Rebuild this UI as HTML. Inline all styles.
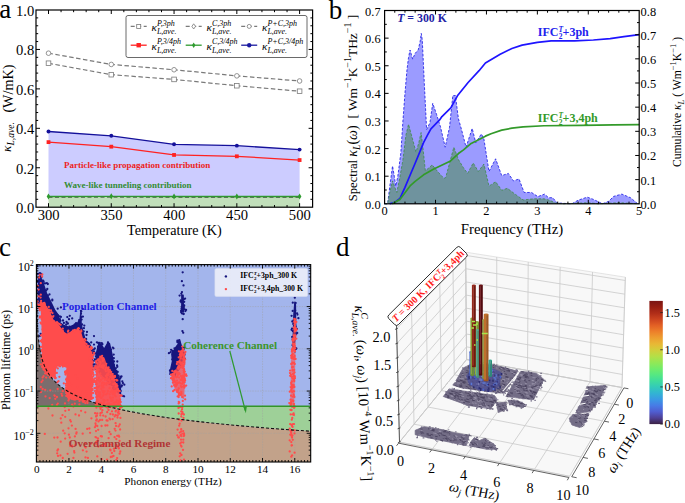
<!DOCTYPE html>
<html><head><meta charset="utf-8"><style>
html,body{margin:0;padding:0;background:#fff;}
svg{display:block;font-family:"Liberation Serif",serif;}
</style></head><body>
<svg width="685" height="503" viewBox="0 0 685 503">
<rect width="685" height="503" fill="#fff"/>
<polygon points="48.5,131.48 111.28,135.81 174.05,144.29 236.83,145.67 299.6,149.62 299.6,196.55 236.83,196.55 174.05,196.55 111.28,196.35 48.5,196.55" fill="#ccccff" stroke="none"/>
<polygon points="48.5,196.55 111.28,196.35 174.05,196.55 236.83,196.55 299.6,196.55 299.6,207.2 48.5,207.2" fill="#c1dfba" stroke="none"/>
<polyline points="48.5,53.19 111.28,64.43 174.05,69.75 236.83,75.86 299.6,80.99" fill="none" stroke="#7a7a7a" stroke-width="1.2" stroke-dasharray="4.5,2.5"/>
<circle cx="48.5" cy="53.19" r="2.3" fill="#fff" stroke="#7a7a7a" stroke-width="0.8"/>
<circle cx="111.28" cy="64.43" r="2.3" fill="#fff" stroke="#7a7a7a" stroke-width="0.8"/>
<circle cx="174.05" cy="69.75" r="2.3" fill="#fff" stroke="#7a7a7a" stroke-width="0.8"/>
<circle cx="236.83" cy="75.86" r="2.3" fill="#fff" stroke="#7a7a7a" stroke-width="0.8"/>
<circle cx="299.6" cy="80.99" r="2.3" fill="#fff" stroke="#7a7a7a" stroke-width="0.8"/>
<polyline points="48.5,63.24 111.28,74.68 174.05,79.41 236.83,85.72 299.6,91.25" fill="none" stroke="#7a7a7a" stroke-width="1.2" stroke-dasharray="4.5,2.5"/>
<rect x="46.2" y="60.94" width="4.6" height="4.6" fill="#fff" stroke="#7a7a7a" stroke-width="0.8"/>
<rect x="108.98" y="72.38" width="4.6" height="4.6" fill="#fff" stroke="#7a7a7a" stroke-width="0.8"/>
<rect x="171.75" y="77.11" width="4.6" height="4.6" fill="#fff" stroke="#7a7a7a" stroke-width="0.8"/>
<rect x="234.53" y="83.42" width="4.6" height="4.6" fill="#fff" stroke="#7a7a7a" stroke-width="0.8"/>
<rect x="297.3" y="88.95" width="4.6" height="4.6" fill="#fff" stroke="#7a7a7a" stroke-width="0.8"/>
<polyline points="48.5,196.55 111.28,196.35 174.05,196.55 236.83,196.55 299.6,196.55" fill="none" stroke="#2e9a2e" stroke-width="1.4"/>
<polyline points="48.5,197.45 111.28,197.25 174.05,197.45 236.83,197.45 299.6,197.45" fill="none" stroke="#4a6a4a" stroke-width="0.9" stroke-dasharray="4,2.5"/>
<polygon points="48.5,193.55 50.3,196.55 48.5,199.55 46.7,196.55" fill="#2e9a2e"/>
<polygon points="111.28,193.35 113.08,196.35 111.28,199.35 109.48,196.35" fill="#2e9a2e"/>
<polygon points="174.05,193.55 175.85,196.55 174.05,199.55 172.25,196.55" fill="#2e9a2e"/>
<polygon points="236.83,193.55 238.63,196.55 236.83,199.55 235.03,196.55" fill="#2e9a2e"/>
<polygon points="299.6,193.55 301.4,196.55 299.6,199.55 297.8,196.55" fill="#2e9a2e"/>
<polyline points="48.5,142.12 111.28,146.66 174.05,154.94 236.83,156.32 299.6,160.07" fill="none" stroke="#f22" stroke-width="1.3"/>
<rect x="46.6" y="140.22" width="3.8" height="3.8" fill="#f22"/>
<rect x="109.38" y="144.76" width="3.8" height="3.8" fill="#f22"/>
<rect x="172.15" y="153.04" width="3.8" height="3.8" fill="#f22"/>
<rect x="234.93" y="154.42" width="3.8" height="3.8" fill="#f22"/>
<rect x="297.7" y="158.17" width="3.8" height="3.8" fill="#f22"/>
<polyline points="48.5,131.48 111.28,135.81 174.05,144.29 236.83,145.67 299.6,149.62" fill="none" stroke="#14109a" stroke-width="1.3"/>
<circle cx="48.5" cy="131.48" r="1.95" fill="#14109a"/>
<circle cx="111.28" cy="135.81" r="1.95" fill="#14109a"/>
<circle cx="174.05" cy="144.29" r="1.95" fill="#14109a"/>
<circle cx="236.83" cy="145.67" r="1.95" fill="#14109a"/>
<circle cx="299.6" cy="149.62" r="1.95" fill="#14109a"/>
<text x="64" y="168.1" font-size="9.0" text-anchor="start" font-weight="bold" font-style="normal" fill="#ee2222" >Particle-like propagation contribution</text>
<text x="64" y="187.7" font-size="9.0" text-anchor="start" font-weight="bold" font-style="normal" fill="#338c33" >Wave-like tunneling contribution</text>
<rect x="36.0" y="10.0" width="276.6" height="197.2" fill="none" stroke="#000" stroke-width="1.2"/>
<path d="M48.5,207.2v-4M48.5,10.0v4M61.05,207.2v-2.2M61.05,10.0v2.2M73.61,207.2v-2.2M73.61,10.0v2.2M86.16,207.2v-2.2M86.16,10.0v2.2M98.72,207.2v-2.2M98.72,10.0v2.2M111.28,207.2v-4M111.28,10.0v4M123.83,207.2v-2.2M123.83,10.0v2.2M136.38,207.2v-2.2M136.38,10.0v2.2M148.94,207.2v-2.2M148.94,10.0v2.2M161.5,207.2v-2.2M161.5,10.0v2.2M174.05,207.2v-4M174.05,10.0v4M186.61,207.2v-2.2M186.61,10.0v2.2M199.16,207.2v-2.2M199.16,10.0v2.2M211.72,207.2v-2.2M211.72,10.0v2.2M224.27,207.2v-2.2M224.27,10.0v2.2M236.83,207.2v-4M236.83,10.0v4M249.38,207.2v-2.2M249.38,10.0v2.2M261.94,207.2v-2.2M261.94,10.0v2.2M274.49,207.2v-2.2M274.49,10.0v2.2M287.05,207.2v-2.2M287.05,10.0v2.2M299.6,207.2v-4M299.6,10.0v4M36.0,199.31h2.2M312.6,199.31h-2.2M36.0,191.42h2.2M312.6,191.42h-2.2M36.0,183.54h2.2M312.6,183.54h-2.2M36.0,175.65h2.2M312.6,175.65h-2.2M36.0,167.76h4M312.6,167.76h-4M36.0,159.87h2.2M312.6,159.87h-2.2M36.0,151.98h2.2M312.6,151.98h-2.2M36.0,144.1h2.2M312.6,144.1h-2.2M36.0,136.21h2.2M312.6,136.21h-2.2M36.0,128.32h4M312.6,128.32h-4M36.0,120.43h2.2M312.6,120.43h-2.2M36.0,112.54h2.2M312.6,112.54h-2.2M36.0,104.66h2.2M312.6,104.66h-2.2M36.0,96.77h2.2M312.6,96.77h-2.2M36.0,88.88h4M312.6,88.88h-4M36.0,80.99h2.2M312.6,80.99h-2.2M36.0,73.1h2.2M312.6,73.1h-2.2M36.0,65.22h2.2M312.6,65.22h-2.2M36.0,57.33h2.2M312.6,57.33h-2.2M36.0,49.44h4M312.6,49.44h-4M36.0,41.55h2.2M312.6,41.55h-2.2M36.0,33.66h2.2M312.6,33.66h-2.2M36.0,25.78h2.2M312.6,25.78h-2.2M36.0,17.89h2.2M312.6,17.89h-2.2" stroke="#000" stroke-width="1" fill="none"/>
<text x="34.2" y="213.2" font-size="14.6" text-anchor="end" font-weight="normal" font-style="normal" fill="#000" >0.0</text>
<text x="34.2" y="173.76" font-size="14.6" text-anchor="end" font-weight="normal" font-style="normal" fill="#000" >0.2</text>
<text x="34.2" y="134.32" font-size="14.6" text-anchor="end" font-weight="normal" font-style="normal" fill="#000" >0.4</text>
<text x="34.2" y="94.88" font-size="14.6" text-anchor="end" font-weight="normal" font-style="normal" fill="#000" >0.6</text>
<text x="34.2" y="55.44" font-size="14.6" text-anchor="end" font-weight="normal" font-style="normal" fill="#000" >0.8</text>
<text x="34.2" y="16" font-size="14.6" text-anchor="end" font-weight="normal" font-style="normal" fill="#000" >1.0</text>
<text x="48.7" y="219.9" font-size="14.6" text-anchor="middle" font-weight="normal" font-style="normal" fill="#000" >300</text>
<text x="111.48" y="219.9" font-size="14.6" text-anchor="middle" font-weight="normal" font-style="normal" fill="#000" >350</text>
<text x="174.25" y="219.9" font-size="14.6" text-anchor="middle" font-weight="normal" font-style="normal" fill="#000" >400</text>
<text x="237.03" y="219.9" font-size="14.6" text-anchor="middle" font-weight="normal" font-style="normal" fill="#000" >450</text>
<text x="299.8" y="219.9" font-size="14.6" text-anchor="middle" font-weight="normal" font-style="normal" fill="#000" >500</text>
<text x="174.4" y="234.9" font-size="14.2" text-anchor="middle" font-weight="normal" font-style="normal" fill="#000" >Temperature (K)</text>
<text transform="translate(12.6,112.6) rotate(-90)" font-size="14.2" text-anchor="start">(W/mK)</text>
<text transform="translate(11.2,152.0) rotate(-90)" font-size="13.4" text-anchor="start"><tspan font-style="italic">κ</tspan><tspan font-size="9.6" font-style="italic" dy="2.6">L,ave.</tspan></text>
<text x="-0.8" y="18.4" font-size="27" text-anchor="start" font-weight="normal" font-style="normal" fill="#000" >a</text>
<rect x="126" y="15.5" width="181" height="42" rx="2" ry="2" fill="#fff" fill-opacity="0.85" stroke="#444" stroke-width="0.8"/>
<path d="M130.7,26.4h16" stroke="#7a7a7a" stroke-width="1.1" stroke-dasharray="4,2.5" fill="none"/>
<rect x="136.7" y="24.4" width="4" height="4" fill="#fff" stroke="#7a7a7a" stroke-width="0.8"/>
<text x="151.6" y="30.8" font-size="11.2" font-style="italic">κ</text>
<text x="156.9" y="25.6" font-size="8" font-style="italic">P,3ph</text>
<text x="156.9" y="34" font-size="8" font-style="italic">L,ave.</text>
<path d="M185.7,26.4h16" stroke="#7a7a7a" stroke-width="1.1" stroke-dasharray="4,2.5" fill="none"/>
<polygon points="193.7,23.8 195.5,26.4 193.7,29 191.9,26.4" fill="#fff" stroke="#7a7a7a" stroke-width="0.8"/>
<text x="206.6" y="30.8" font-size="11.2" font-style="italic">κ</text>
<text x="211.9" y="25.6" font-size="8" font-style="italic">C,3ph</text>
<text x="211.9" y="34" font-size="8" font-style="italic">L,ave.</text>
<path d="M241.2,26.4h16" stroke="#7a7a7a" stroke-width="1.1" stroke-dasharray="4,2.5" fill="none"/>
<circle cx="249.2" cy="26.4" r="2" fill="#fff" stroke="#7a7a7a" stroke-width="0.8"/>
<text x="262.1" y="30.8" font-size="11.2" font-style="italic">κ</text>
<text x="267.4" y="25.6" font-size="8" font-style="italic">P+C,3ph</text>
<text x="267.4" y="34" font-size="8" font-style="italic">L,ave.</text>
<path d="M130.7,45.2h16" stroke="#f22" stroke-width="1.3" fill="none"/>
<rect x="136.5" y="43" width="4.4" height="4.4" fill="#f22"/>
<text x="151.6" y="49.6" font-size="11.2" font-style="italic">κ</text>
<text x="156.9" y="44.4" font-size="8" font-style="italic">P,3/4ph</text>
<text x="156.9" y="52.8" font-size="8" font-style="italic">L,ave.</text>
<path d="M185.7,45.2h16" stroke="#2e9a2e" stroke-width="1.3" fill="none"/>
<polygon points="193.7,42.4 195.4,45.2 193.7,48 192,45.2" fill="#2e9a2e"/>
<text x="206.6" y="49.6" font-size="11.2" font-style="italic">κ</text>
<text x="211.9" y="44.4" font-size="8" font-style="italic">C,3/4ph</text>
<text x="211.9" y="52.8" font-size="8" font-style="italic">L,ave.</text>
<path d="M241.2,45.2h16" stroke="#1a1aa0" stroke-width="1.3" fill="none"/>
<circle cx="249.2" cy="45.2" r="2.2" fill="#1a1aa0"/>
<text x="262.1" y="49.6" font-size="11.2" font-style="italic">κ</text>
<text x="267.4" y="44.4" font-size="8" font-style="italic">P+C,3/4ph</text>
<text x="267.4" y="52.8" font-size="8" font-style="italic">L,ave.</text>
<polygon points="384.6,203.8 387.66,203.8 389.69,187.23 392.54,165.97 394.27,176.19 395.8,186.13 397.84,176.19 400.89,152.45 402.93,120.97 404.97,93.36 407,69.62 408.53,57.47 410.06,50.01 412.61,59.12 415.15,53.33 418.21,50.01 420.24,40.9 421.26,33.45 422.28,40.07 424.32,83.7 426.61,129.53 429.92,122.9 432.72,103.3 436.54,114.34 440.61,127.32 445.19,147.2 449.52,127.32 452.83,95.57 455.38,95.57 458.43,118.76 461.49,129.53 466.07,147.2 472.18,128.42 475.75,142.78 481.35,133.95 483.89,138.92 488.99,171.5 495.61,158.8 501.72,175.64 508.34,173.43 513.43,180.88 519.03,178.95 524.12,192.48 531.5,192.48 537.87,196.62 544.49,194.14 548.56,197.73 552.64,197.73 557.22,202.97 571.99,203.8 578.1,200.21 587.26,197.17 593.37,199.38 602.54,203.8 608.65,201.32 613.74,196.35 621.89,194.14 630.54,197.73 637.67,203.8 639.2,203.8" fill="#9b9bff" stroke="none"/>
<polyline points="384.6,203.8 387.66,203.8 389.69,187.23 392.54,165.97 394.27,176.19 395.8,186.13 397.84,176.19 400.89,152.45 402.93,120.97 404.97,93.36 407,69.62 408.53,57.47 410.06,50.01 412.61,59.12 415.15,53.33 418.21,50.01 420.24,40.9 421.26,33.45 422.28,40.07 424.32,83.7 426.61,129.53 429.92,122.9 432.72,103.3 436.54,114.34 440.61,127.32 445.19,147.2 449.52,127.32 452.83,95.57 455.38,95.57 458.43,118.76 461.49,129.53 466.07,147.2 472.18,128.42 475.75,142.78 481.35,133.95 483.89,138.92 488.99,171.5 495.61,158.8 501.72,175.64 508.34,173.43 513.43,180.88 519.03,178.95 524.12,192.48 531.5,192.48 537.87,196.62 544.49,194.14 548.56,197.73 552.64,197.73 557.22,202.97 571.99,203.8 578.1,200.21 587.26,197.17 593.37,199.38 602.54,203.8 608.65,201.32 613.74,196.35 621.89,194.14 630.54,197.73 637.67,203.8 639.2,203.8" fill="none" stroke="#2a2ae8" stroke-width="0.9" stroke-dasharray="2.6,1.6"/>
<polygon points="384.6,203.8 387.66,203.8 389.69,192.76 392.54,180.88 394.78,187.23 396.82,192.48 399.88,177.29 402.93,159.62 405.99,134.78 408.53,124.28 412.1,137.54 416.02,152.17 418.72,143.06 421.11,132.57 423.3,151.34 425.34,170.67 428.9,167.91 432.11,164.87 438.07,172.05 443.92,178.4 445.7,177.57 449.78,162.39 453.85,147.2 458.43,159.62 463.53,167.91 467.6,173.43 473.2,162.94 478.29,171.5 483.89,164.04 488.99,186.13 495.61,181.71 501.72,190.27 507.32,188.34 515.46,194.41 523.1,199.93 533.8,198.83 543.98,198.83 550.09,200.49 555.18,202.97 562.82,203.8 583.19,202.97 588.28,202.7 598.46,203.8 618.83,202.7 629.02,203.25 639.2,203.8" fill="#6f939e" stroke="none"/>
<polyline points="384.6,203.8 387.66,203.8 389.69,192.76 392.54,180.88 394.78,187.23 396.82,192.48 399.88,177.29 402.93,159.62 405.99,134.78 408.53,124.28 412.1,137.54 416.02,152.17 418.72,143.06 421.11,132.57 423.3,151.34 425.34,170.67 428.9,167.91 432.11,164.87 438.07,172.05 443.92,178.4 445.7,177.57 449.78,162.39 453.85,147.2 458.43,159.62 463.53,167.91 467.6,173.43 473.2,162.94 478.29,171.5 483.89,164.04 488.99,186.13 495.61,181.71 501.72,190.27 507.32,188.34 515.46,194.41 523.1,199.93 533.8,198.83 543.98,198.83 550.09,200.49 555.18,202.97 562.82,203.8 583.19,202.97 588.28,202.7 598.46,203.8 618.83,202.7 629.02,203.25 639.2,203.8" fill="none" stroke="#3f8a4a" stroke-width="0.8" stroke-dasharray="2.6,1.6"/>
<polyline points="389.69,203.8 394.78,202.35 399.88,198.48 404.97,187.37 410.06,175.29 415.15,163.21 420.24,150.89 423.55,142.68 427.88,134.46 430.94,128.9 439.59,119.96 441.94,116.58 450.8,107.88 457.42,95.8 468.11,82.52 479.06,70.68 485.42,62.95 500.19,54.25 511.9,48.45 522.08,45.07 537.36,42.41 551.11,40.96 574.53,40.96 593.37,40 610.18,38.55 623.92,36.61 639.2,34.68" fill="none" stroke="#1e14ff" stroke-width="1.7" stroke-linejoin="round"/>
<polyline points="392.24,203.8 399.88,199.45 404.97,192.69 410.06,185.92 415.15,181.33 423.6,174.81 433.79,169.01 450.03,161.28 458.43,153.55 463.53,149.92 471.16,143.4 485.42,136.15 491.02,133.74 501.72,130.11 511.9,128.18 523.1,126.97 543.98,125.76 581.15,125.28 613.74,124.8 639.2,124.56" fill="none" stroke="#339a2a" stroke-width="1.7" stroke-linejoin="round"/>
<rect x="384.6" y="10.5" width="254.6" height="193.3" fill="none" stroke="#000" stroke-width="1.2"/>
<path d="M394.78,203.8v-2.2M394.78,10.5v2.2M404.97,203.8v-2.2M404.97,10.5v2.2M415.15,203.8v-2.2M415.15,10.5v2.2M425.34,203.8v-2.2M425.34,10.5v2.2M435.52,203.8v-4M435.52,10.5v4M445.7,203.8v-2.2M445.7,10.5v2.2M455.89,203.8v-2.2M455.89,10.5v2.2M466.07,203.8v-2.2M466.07,10.5v2.2M476.26,203.8v-2.2M476.26,10.5v2.2M486.44,203.8v-4M486.44,10.5v4M496.62,203.8v-2.2M496.62,10.5v2.2M506.81,203.8v-2.2M506.81,10.5v2.2M516.99,203.8v-2.2M516.99,10.5v2.2M527.18,203.8v-2.2M527.18,10.5v2.2M537.36,203.8v-4M537.36,10.5v4M547.54,203.8v-2.2M547.54,10.5v2.2M557.73,203.8v-2.2M557.73,10.5v2.2M567.91,203.8v-2.2M567.91,10.5v2.2M578.1,203.8v-2.2M578.1,10.5v2.2M588.28,203.8v-4M588.28,10.5v4M598.46,203.8v-2.2M598.46,10.5v2.2M608.65,203.8v-2.2M608.65,10.5v2.2M618.83,203.8v-2.2M618.83,10.5v2.2M629.02,203.8v-2.2M629.02,10.5v2.2M384.6,190h2.2M384.6,176.19h4M384.6,162.38h2.2M384.6,148.58h4M384.6,134.78h2.2M384.6,120.97h4M384.6,107.16h2.2M384.6,93.36h4M384.6,79.55h2.2M384.6,65.75h4M384.6,51.94h2.2M384.6,38.14h4M384.6,24.33h2.2M639.2,191.72h-2.2M639.2,179.64h-4M639.2,167.56h-2.2M639.2,155.48h-4M639.2,143.4h-2.2M639.2,131.32h-4M639.2,119.24h-2.2M639.2,107.16h-4M639.2,95.08h-2.2M639.2,83h-4M639.2,70.92h-2.2M639.2,58.84h-4M639.2,46.76h-2.2M639.2,34.68h-4M639.2,22.6h-2.2" stroke="#000" stroke-width="1" fill="none"/>
<text x="380.6" y="208.9" font-size="12.4" text-anchor="end" font-weight="normal" font-style="normal" fill="#000" >0.0</text>
<text x="380.6" y="181.29" font-size="12.4" text-anchor="end" font-weight="normal" font-style="normal" fill="#000" >0.1</text>
<text x="380.6" y="153.68" font-size="12.4" text-anchor="end" font-weight="normal" font-style="normal" fill="#000" >0.2</text>
<text x="380.6" y="126.07" font-size="12.4" text-anchor="end" font-weight="normal" font-style="normal" fill="#000" >0.3</text>
<text x="380.6" y="98.46" font-size="12.4" text-anchor="end" font-weight="normal" font-style="normal" fill="#000" >0.4</text>
<text x="380.6" y="70.85" font-size="12.4" text-anchor="end" font-weight="normal" font-style="normal" fill="#000" >0.5</text>
<text x="380.6" y="43.24" font-size="12.4" text-anchor="end" font-weight="normal" font-style="normal" fill="#000" >0.6</text>
<text x="380.6" y="15.63" font-size="12.4" text-anchor="end" font-weight="normal" font-style="normal" fill="#000" >0.7</text>
<text x="640.6" y="208.8" font-size="12.4" text-anchor="start" font-weight="normal" font-style="normal" fill="#000" >0.0</text>
<text x="640.6" y="184.64" font-size="12.4" text-anchor="start" font-weight="normal" font-style="normal" fill="#000" >0.1</text>
<text x="640.6" y="160.48" font-size="12.4" text-anchor="start" font-weight="normal" font-style="normal" fill="#000" >0.2</text>
<text x="640.6" y="136.32" font-size="12.4" text-anchor="start" font-weight="normal" font-style="normal" fill="#000" >0.3</text>
<text x="640.6" y="112.16" font-size="12.4" text-anchor="start" font-weight="normal" font-style="normal" fill="#000" >0.4</text>
<text x="640.6" y="88" font-size="12.4" text-anchor="start" font-weight="normal" font-style="normal" fill="#000" >0.5</text>
<text x="640.6" y="63.84" font-size="12.4" text-anchor="start" font-weight="normal" font-style="normal" fill="#000" >0.6</text>
<text x="640.6" y="39.68" font-size="12.4" text-anchor="start" font-weight="normal" font-style="normal" fill="#000" >0.7</text>
<text x="640.6" y="15.52" font-size="12.4" text-anchor="start" font-weight="normal" font-style="normal" fill="#000" >0.8</text>
<text x="384.6" y="214.9" font-size="12.4" text-anchor="middle" font-weight="normal" font-style="normal" fill="#000" >0</text>
<text x="435.52" y="214.9" font-size="12.4" text-anchor="middle" font-weight="normal" font-style="normal" fill="#000" >1</text>
<text x="486.44" y="214.9" font-size="12.4" text-anchor="middle" font-weight="normal" font-style="normal" fill="#000" >2</text>
<text x="537.36" y="214.9" font-size="12.4" text-anchor="middle" font-weight="normal" font-style="normal" fill="#000" >3</text>
<text x="588.28" y="214.9" font-size="12.4" text-anchor="middle" font-weight="normal" font-style="normal" fill="#000" >4</text>
<text x="639.2" y="214.9" font-size="12.4" text-anchor="middle" font-weight="normal" font-style="normal" fill="#000" >5</text>
<text x="512" y="233.9" font-size="14.8" text-anchor="middle" font-weight="normal" font-style="normal" fill="#000" >Frequency (THz)</text>
<text x="328.8" y="18.5" font-size="27" text-anchor="start" font-weight="normal" font-style="normal" fill="#000" >b</text>
<text x="397.2" y="21.7" font-size="11.8" font-weight="bold" fill="#2222a6"><tspan font-style="italic">T</tspan> = 300 K</text>
<text x="537.8" y="36.4" font-size="12" font-weight="bold" fill="#2222ee">IFC<tspan font-size="7.5" font-style="italic" dy="-4.5">T</tspan><tspan font-size="7.5" dx="-4.2" dy="7.5">2</tspan><tspan dy="-3">+3ph</tspan></text>
<text x="537.8" y="122.4" font-size="12" font-weight="bold" fill="#339a2a">IFC<tspan font-size="7.5" font-style="italic" dy="-4.5">T</tspan><tspan font-size="7.5" dx="-4.2" dy="7.5">2</tspan><tspan dy="-3">+3,4ph</tspan></text>
<text transform="translate(356.8,201.2) rotate(-90)" font-size="12.6" text-anchor="start">Spectral <tspan font-size="14" font-style="italic">κ</tspan><tspan font-size="9.8" font-style="italic" dy="2.8">L</tspan><tspan font-size="14" dy="-2.8">(</tspan><tspan font-size="14" font-style="italic">ω</tspan><tspan font-size="14">)</tspan></text>
<text transform="translate(356.8,118.6) rotate(-90)" font-size="13.4" text-anchor="start">[ Wm<tspan font-size="10" dy="-5.5">−1</tspan><tspan dy="5.5">K</tspan><tspan font-size="10" dy="-5.5">−1</tspan><tspan dy="5.5">THz</tspan><tspan font-size="10" dy="-5.5">−1</tspan><tspan dy="5.5"> ]</tspan></text>
<text transform="translate(681.2,101.9) rotate(-90)" font-size="11.6" text-anchor="middle">Cumulative <tspan font-style="italic">κ</tspan><tspan font-size="8.4" font-style="italic" dy="2.5">L</tspan><tspan dy="-2.5"> ( Wm</tspan><tspan font-size="8.6" dy="-4.8">−1</tspan><tspan dy="4.8">K</tspan><tspan font-size="8.6" dy="-4.8">−1</tspan><tspan dy="4.8"> )</tspan></text>
<rect x="36.4" y="264.6" width="274.3" height="197.4" fill="#a3b5ec"/>
<polygon points="36.4,264.6 36.73,264.6 36.73,264.6 36.73,266.01 36.74,267.42 36.74,268.84 36.74,270.25 36.75,271.66 36.75,273.07 36.75,274.49 36.76,275.9 36.76,277.31 36.77,278.72 36.77,280.13 36.78,281.55 36.78,282.96 36.79,284.37 36.8,285.78 36.81,287.19 36.82,288.61 36.82,290.02 36.83,291.43 36.85,292.84 36.86,294.26 36.87,295.67 36.88,297.08 36.9,298.49 36.91,299.9 36.93,301.32 36.95,302.73 36.97,304.14 36.99,305.55 37.01,306.96 37.04,308.38 37.07,309.79 37.09,311.2 37.13,312.61 37.16,314.03 37.2,315.44 37.24,316.85 37.28,318.26 37.33,319.67 37.38,321.09 37.43,322.5 37.49,323.91 37.55,325.32 37.62,326.73 37.69,328.15 37.77,329.56 37.86,330.97 37.95,332.38 38.05,333.8 38.16,335.21 38.28,336.62 38.4,338.03 38.54,339.44 38.69,340.86 38.85,342.27 39.02,343.68 39.2,345.09 39.4,346.5 39.62,347.92 39.85,349.33 40.11,350.74 40.38,352.15 40.67,353.57 40.99,354.98 41.33,356.39 41.71,357.8 42.11,359.21 42.54,360.63 43.01,362.04 43.51,363.45 44.05,364.86 44.64,366.28 45.28,367.69 45.97,369.1 46.71,370.51 47.51,371.92 48.37,373.34 49.3,374.75 50.31,376.16 51.4,377.57 52.58,378.98 53.85,380.4 55.22,381.81 56.7,383.22 58.3,384.63 60.03,386.05 61.9,387.46 63.91,388.87 66.09,390.28 68.44,391.69 70.98,393.11 73.72,394.52 76.69,395.93 79.88,397.34 83.34,398.75 87.07,400.17 91.1,401.58 95.45,402.99 100.15,404.4 105.23,405.82 106.75,406.22 36.4,406.22" fill="#7b6d6d"/>
<polygon points="106.75,406.22 310.7,406.22 310.7,431.26 295.87,430.22 276.68,428.81 258.9,427.4 242.44,425.99 227.2,424.58 213.09,423.16 200.02,421.75 187.93,420.34 176.72,418.93 166.35,417.51 156.75,416.1 147.86,414.69 139.62,413.28 132,411.87 124.94,410.45 118.4,409.04 112.35,407.63 106.75,406.22" fill="#9ed098"/>
<polygon points="36.4,406.22 106.75,406.22 106.75,406.22 112.35,407.63 118.4,409.04 124.94,410.45 132,411.87 139.62,413.28 147.86,414.69 156.75,416.1 166.35,417.51 176.72,418.93 187.93,420.34 200.02,421.75 213.09,423.16 227.2,424.58 242.44,425.99 258.9,427.4 276.68,428.81 295.87,430.22 310.7,431.26 310.7,462 36.4,462" fill="#c2a28a"/>
<path d="M68.96,264.6V462.0M101.22,264.6V462.0M133.48,264.6V462.0M165.74,264.6V462.0M198,264.6V462.0M230.26,264.6V462.0M262.52,264.6V462.0M294.78,264.6V462.0M36.4,306.55H310.7M36.4,348.8H310.7M36.4,391.05H310.7M36.4,433.3H310.7" stroke="#a0a0a0" stroke-opacity="0.45" stroke-width="0.9" stroke-dasharray="1.6,1" fill="none"/>
<polygon points="38.31,276.13 39.93,276.13 43.47,282.05 47.02,293.03 51.06,301.06 55.41,309.93 58.96,315 60.41,322.18 63.96,324.72 68.96,326.41 72.83,324.72 76.86,323.03 79.44,318.8 80.41,309.93 81.38,309.93 81.86,324.72 83.96,332.75 85.9,339.93 89.77,342.88 91.7,346.69 93.16,357.25 92.35,369.93 88.32,361.48 68.96,340.35 52.83,327.68 43.15,310.78 38.31,302.32 37.67,285.43" fill="#16167e"/>
<polygon points="95.74,353.03 98.16,343.73 101.22,343.31 104.12,347.95 107.83,341.62 110.09,343.31 112.35,353.03 114.61,364.86 117.51,373.73 120.41,379.64 121.22,390.21 121.22,395.28 96.06,369.93 95.41,366.12" fill="#16167e"/>
<polygon points="180.26,340.35 183.64,350.49 182.03,365.7 175.26,375.84 169.29,372.46 171.87,360.63 171.06,353.87 175.42,346.69" fill="#16167e"/>
<polygon points="181.06,293.88 183.81,294.72 184.13,312.47 181.39,312.47" fill="#16167e"/>
<polygon points="294.3,301.48 296.07,302.32 296.39,334.01 293.97,350.91 292.52,340.35 293.17,315" fill="#16167e"/>
<path d="M85.1,340.4h0M88.5,344.0h0M57.7,318.2h0M53.3,327.4h0M49.5,294.4h0M47.8,284.0h0M78.4,350.8h0M40.6,278.0h0M59.9,320.1h0M87.7,344.6h0M92.1,356.4h0M76.4,350.0h0M41.0,276.7h0M69.1,341.8h0M81.6,319.6h0M83.9,328.2h0M37.8,287.1h0M63.9,322.9h0M37.5,281.6h0M83.6,355.0h0M46.5,298.7h0M60.0,333.4h0M52.3,299.7h0M57.8,315.9h0M59.9,319.1h0M81.9,354.3h0M62.8,327.9h0M50.0,327.1h0M60.6,325.5h0M84.6,356.2h0M63.2,326.6h0M81.3,311.3h0M47.7,295.7h0M87.3,362.6h0M43.0,310.7h0M38.7,299.2h0M59.7,316.3h0M63.0,320.5h0M87.4,361.4h0M45.0,283.4h0M69.9,344.1h0M88.7,363.5h0M67.9,339.2h0M93.6,366.7h0M79.2,320.1h0M41.2,280.0h0M46.3,290.3h0M92.5,369.4h0M41.5,304.2h0M71.7,343.7h0M46.7,283.1h0M71.0,342.2h0M79.9,355.0h0M80.9,310.8h0M92.4,361.8h0M62.8,333.7h0M39.3,301.1h0M53.8,325.9h0M82.8,358.2h0M88.8,361.0h0M39.8,276.3h0M82.1,324.5h0M86.1,339.0h0M62.7,334.3h0M92.1,349.9h0M90.1,349.9h0M74.8,324.5h0M75.0,347.5h0M37.4,299.6h0M38.4,306.1h0M58.0,322.9h0M39.2,297.7h0M90.1,366.5h0M93.8,349.5h0M69.9,339.9h0M57.5,314.8h0M61.8,325.4h0M91.2,353.6h0M37.5,281.0h0M43.6,281.5h0M68.2,340.2h0M53.2,327.1h0M91.2,342.4h0M69.5,326.6h0M81.5,356.8h0M80.1,347.8h0M74.1,346.9h0M60.9,316.9h0M68.7,340.8h0M81.0,313.6h0M86.1,357.6h0M52.9,326.6h0M37.9,293.1h0M86.1,339.6h0M79.2,322.1h0M53.3,325.3h0M80.1,354.0h0M47.6,319.2h0M66.5,321.9h0M82.7,308.9h0M82.9,316.6h0M92.8,364.2h0M43.1,280.7h0M52.0,326.3h0M53.5,328.4h0M92.7,354.4h0M74.3,343.9h0M38.7,290.0h0M92.4,361.8h0M79.0,353.9h0M91.9,369.7h0M46.2,314.3h0M46.4,313.2h0M92.1,369.9h0M92.4,353.3h0M49.7,324.3h0M74.0,344.9h0M87.0,331.9h0M76.1,323.1h0M86.5,335.0h0M91.3,347.4h0M86.1,358.0h0M55.7,329.4h0M66.2,324.5h0M81.2,317.2h0M66.0,338.2h0M72.9,326.6h0M84.5,339.6h0M93.5,361.2h0M81.9,354.4h0M42.6,311.7h0M67.9,323.5h0M37.8,302.8h0M39.1,301.3h0M40.6,306.0h0M65.6,338.4h0M45.0,319.0h0M51.1,305.9h0M42.1,280.8h0M38.9,299.2h0M92.8,352.5h0M73.6,345.7h0M52.3,300.4h0M92.3,356.2h0M60.4,320.8h0M38.7,278.4h0M47.3,289.0h0M57.1,333.0h0M91.4,357.5h0M40.1,275.2h0M57.2,318.1h0M83.7,331.4h0M95.9,356.3h0M50.4,322.1h0M81.8,357.2h0M95.2,353.5h0M113.5,348.3h0M105.7,377.8h0M97.1,365.5h0M106.3,378.7h0M111.6,384.9h0M120.3,376.9h0M117.7,391.7h0M94.9,359.4h0M114.8,389.7h0M117.3,366.8h0M112.7,382.5h0M94.8,348.5h0M111.1,349.6h0M108.0,342.5h0M112.8,347.6h0M122.3,381.3h0M94.1,351.7h0M96.9,342.3h0M98.0,346.8h0M120.0,378.6h0M124.1,396.3h0M114.7,370.5h0M113.9,365.7h0M120.6,391.0h0M113.7,354.6h0M98.5,349.4h0M117.1,365.5h0M100.8,346.3h0M99.7,342.9h0M120.6,377.7h0M122.8,382.9h0M121.5,376.4h0M122.7,395.9h0M118.4,375.6h0M121.9,385.5h0M114.6,389.9h0M119.1,392.9h0M124.3,384.7h0M109.4,384.0h0M96.1,365.5h0M113.9,365.0h0M119.5,388.3h0M107.9,382.4h0M98.2,354.3h0M98.1,348.3h0M116.3,370.9h0M121.5,386.5h0M112.9,388.2h0M113.6,364.9h0M113.8,358.2h0M100.4,345.4h0M119.9,392.9h0M116.6,373.8h0M112.1,360.7h0M111.2,357.7h0M94.3,364.3h0M101.8,343.2h0M98.2,342.9h0M113.2,390.3h0M99.3,345.7h0M98.8,345.7h0M113.0,387.9h0M114.0,361.4h0M102.4,344.2h0M98.3,362.8h0M117.7,371.9h0M110.5,359.3h0M95.6,368.5h0M113.5,364.8h0M115.8,368.3h0M168.9,353.2h0M170.2,374.1h0M174.5,348.3h0M170.9,373.8h0M177.4,340.7h0M179.9,344.6h0M184.1,347.7h0M176.8,347.7h0M183.5,349.6h0M183.1,361.5h0M172.1,372.8h0M183.1,366.3h0M172.1,374.7h0M172.9,360.3h0M171.1,349.8h0M172.7,351.0h0M177.3,341.9h0M172.3,359.5h0M178.9,373.7h0M179.3,341.4h0M182.2,356.6h0M179.7,342.7h0M181.9,347.4h0M184.5,354.7h0M170.0,370.4h0M183.4,349.4h0M182.4,357.1h0M183.3,358.6h0M183.4,352.6h0M170.7,371.7h0M184.6,358.9h0M178.3,366.1h0M174.8,375.9h0M178.1,342.6h0M170.6,373.7h0M179.3,340.2h0M179.4,341.4h0M170.7,352.2h0M184.0,353.3h0M183.6,359.5h0M182.1,309.1h0M183.3,313.9h0M182.0,292.1h0M181.9,301.7h0M182.2,306.4h0M185.4,311.1h0M180.6,301.5h0M184.4,309.1h0M181.5,302.4h0M183.7,314.0h0M183.8,305.3h0M182.4,305.0h0M183.8,306.5h0M181.5,309.0h0M181.1,300.9h0M183.9,307.0h0M181.2,312.2h0M181.3,293.6h0M181.1,310.9h0M181.8,313.3h0M183.7,307.6h0M183.8,299.3h0M179.6,295.6h0M184.2,305.4h0M185.1,298.6h0M181.7,307.0h0M180.8,300.5h0M184.2,301.8h0M186.1,309.9h0M182.6,309.7h0M293.3,324.0h0M296.3,333.7h0M294.7,338.1h0M292.3,321.5h0M295.6,303.0h0M293.3,337.0h0M294.3,348.9h0M293.4,341.7h0M292.7,310.9h0M294.9,351.5h0M292.8,302.7h0M293.8,320.0h0M292.7,339.2h0M295.1,324.3h0M297.2,333.0h0M296.3,348.4h0M297.1,313.3h0M292.6,345.2h0M295.2,310.5h0M293.9,342.6h0M296.9,328.9h0M293.3,343.7h0M293.6,346.8h0M298.4,318.2h0M292.2,337.0h0M292.0,328.6h0M293.6,321.2h0M295.1,347.9h0M293.6,345.5h0M295.6,326.5h0M293.9,337.7h0M297.4,314.6h0M293.4,348.0h0M292.8,331.1h0M296.0,348.9h0M41.0,282.6h0M39.3,278.3h0M41.2,279.4h0M39.6,282.0h0M41.2,285.1h0M37.7,273.9h0M41.1,273.8h0M39.9,273.2h0M38.7,277.6h0M37.8,290.5h0M182.7,272.3h0M181.9,281.2h0M183.5,285.4h0M182.7,319.2h0M183.2,332.7h0M182.4,331.1h0M294.8,297.7h0M291.6,315.8h0M291.6,329.8h0M83.5,340.4h0M86.7,346.7h0M57.7,308.7h0M67.3,317.1h0M69.0,319.2h0M94.0,336.1h0M76.2,331.9h0M117.3,361.5h0M37.5,266.0h0M39.1,273.6h0M39.9,277.0h0M38.3,282.0h0M41.5,277.0h0M40.2,283.3h0M39.3,289.7h0M39.9,336.1h0M40.7,334.0h0M60.9,307.4h0M69.8,315.8h0M72.2,318.4h0M84.3,325.6h0M94.0,344.6h0" stroke="#16167e" stroke-width="2.3" stroke-linecap="round" fill="none"/>
<polygon points="39.28,302.32 44.77,303.17 48.96,309.93 53.64,319.65 58.96,324.72 62.02,328.94 66.06,334.01 69.93,331.9 73.96,331.06 77.83,328.94 80.9,331.06 82.83,337.81 85.9,345 89.77,347.95 92.35,353.03 92.35,399.5 85.09,401.61 75.41,399.5 67.35,397.39 66.38,388.94 66.38,367.81 60.9,365.7 56.06,366.55 55.73,376.69 49.6,376.69 44.77,372.04 41.86,367.81 41.7,331.9 40.73,310.78" fill="#ff4c4c"/>
<polygon points="96.06,369.5 97.67,358.94 100.41,355.98 104.93,358.94 107.83,367.81 110.9,370.77 113.8,376.69 116.87,385.56 118.96,391.47 120.58,397.39 120.58,406.26 95.74,406.26" fill="#ff4c4c" fill-opacity="0.92"/>
<polygon points="182.03,347.11 184.45,350.49 184.93,380.91 184.13,399.5 176.87,392.74 172.68,384.29 171.87,375.84 176.87,367.39 180.26,355.56" fill="#ff4c4c" fill-opacity="0.75"/>
<polygon points="295.1,317.11 295.91,323.45 295.26,361.48 294.13,405.42 290.26,405.42 290.91,361.48 292.84,336.12" fill="#ff4c4c" fill-opacity="0.6"/>
<path d="M91.3,398.0h0M49.3,310.3h0M83.6,341.3h0M85.5,340.4h0M39.8,310.3h0M92.6,389.9h0M45.1,373.4h0M57.0,322.2h0M68.1,397.6h0M84.2,342.5h0M52.5,313.1h0M91.5,384.6h0M51.0,310.3h0M90.0,357.5h0M39.7,309.0h0M94.2,352.8h0M79.0,328.6h0M87.5,403.0h0M39.9,305.0h0M77.7,328.9h0M58.3,323.4h0M42.8,330.1h0M62.8,328.7h0M93.0,397.9h0M92.2,356.6h0M74.9,332.1h0M40.8,364.4h0M41.1,335.5h0M93.7,354.8h0M90.0,348.6h0M39.0,307.7h0M71.3,398.5h0M91.3,352.7h0M54.1,322.1h0M84.5,343.4h0M78.5,328.1h0M45.4,307.2h0M93.4,379.4h0M73.2,330.3h0M91.4,371.1h0M72.1,399.1h0M53.6,367.8h0M73.0,330.7h0M66.5,378.7h0M42.6,366.6h0M82.8,339.5h0M66.1,385.8h0M66.1,379.7h0M42.0,339.8h0M43.3,303.1h0M92.2,398.3h0M53.4,316.1h0M67.4,395.8h0M65.5,333.8h0M91.5,358.5h0M87.5,346.2h0M42.2,355.2h0M68.3,330.7h0M42.8,364.8h0M92.9,376.6h0M46.6,309.0h0M40.6,307.2h0M48.1,374.8h0M42.3,335.0h0M92.0,354.8h0M48.8,306.9h0M49.8,377.4h0M67.0,395.1h0M40.6,322.6h0M40.0,307.5h0M92.1,385.0h0M91.7,365.9h0M67.2,382.0h0M92.9,381.5h0M42.1,366.9h0M74.9,330.0h0M80.7,331.8h0M89.4,358.7h0M56.5,366.2h0M93.7,380.1h0M92.3,373.7h0M75.0,331.4h0M41.2,323.7h0M93.7,374.9h0M92.5,371.0h0M42.5,329.4h0M94.1,380.8h0M92.5,361.3h0M49.5,312.7h0M48.9,309.7h0M46.3,307.3h0M68.3,397.5h0M86.6,344.2h0M66.0,334.5h0M54.9,377.0h0M41.9,342.1h0M92.4,368.6h0M44.7,303.6h0M42.6,357.9h0M59.1,365.8h0M54.7,367.4h0M41.9,342.0h0M54.1,321.4h0M50.0,314.2h0M79.5,401.0h0M91.8,385.2h0M60.0,366.3h0M91.8,367.7h0M66.0,383.9h0M56.8,372.9h0M93.3,374.3h0M48.7,312.2h0M87.2,401.6h0M44.3,306.0h0M66.4,391.5h0M74.7,330.2h0M40.1,316.4h0M41.3,317.6h0M65.5,374.5h0M91.2,346.9h0M92.6,378.9h0M62.9,331.1h0M92.9,372.7h0M77.9,330.5h0M84.6,339.1h0M92.4,383.7h0M62.8,366.5h0M68.0,389.2h0M91.2,366.7h0M92.0,357.6h0M57.8,368.4h0M68.0,331.7h0M66.0,391.2h0M45.9,373.6h0M84.8,343.6h0M75.1,399.6h0M53.0,316.8h0M58.1,326.3h0M85.3,403.1h0M42.5,340.4h0M76.9,398.8h0M55.0,378.3h0M91.5,364.5h0M42.4,346.9h0M92.0,389.0h0M42.0,351.0h0M92.0,377.0h0M77.1,330.2h0M41.7,319.3h0M54.7,369.8h0M95.1,382.2h0M49.2,310.1h0M48.0,310.5h0M40.2,304.8h0M44.8,304.7h0M91.7,378.3h0M41.6,350.2h0M66.7,372.0h0M91.9,380.1h0M42.2,361.0h0M59.4,324.1h0M82.7,401.6h0M44.3,303.0h0M66.3,373.3h0M83.3,401.9h0M51.5,312.1h0M92.9,358.2h0M84.1,401.2h0M40.7,341.0h0M41.5,358.7h0M66.2,393.2h0M92.1,348.2h0M37.8,304.6h0M52.5,376.9h0M71.7,331.9h0M92.4,371.5h0M75.4,399.4h0M42.1,314.2h0M42.2,356.0h0M93.0,382.4h0M43.5,369.6h0M39.7,317.6h0M85.4,343.3h0M66.5,387.8h0M91.3,373.9h0M91.7,373.3h0M91.3,349.0h0M55.1,323.3h0M81.3,331.4h0M56.3,367.4h0M64.4,333.6h0M41.0,302.7h0M89.9,360.9h0M81.3,330.3h0M47.8,374.6h0M93.0,393.0h0M92.2,386.2h0M88.7,345.8h0M92.7,362.5h0M40.6,306.5h0M91.9,377.4h0M67.9,374.0h0M65.1,371.6h0M60.7,324.8h0M91.4,398.7h0M92.5,381.2h0M66.1,387.9h0M65.1,372.5h0M66.9,381.4h0M89.3,400.8h0M92.1,356.0h0M92.7,384.6h0M39.0,305.2h0M40.4,346.9h0M42.1,350.9h0M41.4,304.9h0M55.7,377.9h0M89.8,399.2h0M78.3,330.9h0M50.8,316.5h0M120.7,402.0h0M96.0,387.6h0M96.1,381.5h0M116.7,384.6h0M116.7,380.6h0M101.5,357.3h0M94.4,388.2h0M98.1,360.0h0M109.2,405.2h0M106.3,363.8h0M95.9,368.2h0M107.8,407.5h0M99.6,406.7h0M99.1,406.4h0M102.1,355.9h0M117.1,386.1h0M99.8,405.4h0M113.6,377.7h0M106.4,407.0h0M117.3,390.1h0M95.2,378.4h0M108.4,368.6h0M95.5,388.1h0M99.8,406.8h0M117.4,385.9h0M120.7,395.2h0M110.4,374.8h0M112.7,374.1h0M109.6,370.1h0M95.9,384.3h0M116.2,379.8h0M112.8,406.1h0M96.7,383.7h0M116.6,384.2h0M117.3,380.4h0M95.8,365.7h0M115.5,384.1h0M100.7,404.8h0M96.9,372.6h0M95.0,391.1h0M97.0,370.2h0M117.7,388.3h0M96.3,371.7h0M102.8,359.2h0M98.6,359.8h0M108.9,405.6h0M95.7,393.0h0M101.2,356.6h0M97.7,387.4h0M95.9,367.2h0M121.8,407.1h0M113.2,376.4h0M116.5,406.5h0M120.2,404.7h0M109.9,370.2h0M106.5,367.6h0M120.5,395.9h0M97.2,391.3h0M119.5,405.6h0M96.8,387.3h0M97.2,369.5h0M95.6,404.2h0M121.0,405.8h0M114.9,376.0h0M96.8,390.0h0M97.6,359.7h0M95.5,381.2h0M106.5,404.8h0M114.3,406.2h0M117.3,389.4h0M110.5,371.9h0M120.0,399.3h0M121.6,395.7h0M96.2,361.2h0M118.0,389.1h0M116.3,386.1h0M108.6,367.5h0M94.3,369.6h0M94.3,367.3h0M115.8,383.9h0M112.7,375.6h0M113.2,378.1h0M96.1,402.3h0M110.5,372.1h0M119.7,391.2h0M112.6,374.2h0M96.4,370.9h0M115.0,376.9h0M107.8,406.8h0M96.2,362.4h0M180.2,354.9h0M180.5,353.0h0M182.3,346.6h0M174.6,380.6h0M184.7,353.7h0M172.6,374.0h0M185.0,395.7h0M172.9,375.1h0M176.9,364.0h0M185.2,359.6h0M178.9,351.3h0M183.7,370.6h0M179.1,366.0h0M185.2,399.3h0M183.6,386.5h0M182.3,397.2h0M176.2,371.7h0M184.1,364.6h0M185.2,385.8h0M174.5,389.9h0M176.9,391.0h0M173.1,391.2h0M184.6,382.3h0M184.7,374.2h0M186.6,375.8h0M184.4,387.5h0M171.7,386.4h0M178.7,357.3h0M184.8,371.7h0M185.1,380.4h0M171.0,378.2h0M186.2,385.6h0M174.3,371.6h0M175.4,370.8h0M178.9,394.7h0M172.3,370.9h0M179.9,354.5h0M180.7,351.7h0M178.1,361.8h0M186.1,374.3h0M184.6,375.4h0M183.8,361.1h0M184.7,379.4h0M179.8,362.5h0M177.2,362.1h0M171.0,374.7h0M180.3,355.2h0M185.4,352.0h0M175.5,370.9h0M184.3,385.4h0M290.5,405.2h0M295.6,358.9h0M293.7,327.6h0M293.7,335.3h0M296.3,338.7h0M293.5,340.5h0M296.7,329.5h0M294.2,318.9h0M291.1,355.8h0M290.7,403.2h0M294.3,381.1h0M290.1,370.6h0M294.9,331.4h0M294.2,321.9h0M294.5,372.3h0M295.5,327.8h0M294.5,329.2h0M294.6,320.8h0M290.0,373.1h0M294.4,329.5h0M294.6,324.5h0M292.6,340.6h0M296.3,321.9h0M289.3,403.1h0M291.9,351.7h0M292.8,353.9h0M294.2,391.3h0M295.5,319.3h0M289.8,391.7h0M290.2,375.8h0M292.9,338.7h0M294.0,363.0h0M294.9,378.2h0M294.7,364.0h0M292.8,339.7h0M294.5,372.5h0M290.9,375.0h0M295.8,330.7h0M293.5,357.5h0M293.7,385.3h0M99.1,395.7h0M102.9,385.8h0M114.2,379.9h0M108.1,375.1h0M97.4,402.0h0M99.3,366.3h0M117.5,404.3h0M113.5,403.5h0M100.5,362.8h0M112.6,400.4h0M113.8,403.7h0M107.0,374.7h0M98.7,369.7h0M100.3,373.5h0M97.0,371.4h0M100.3,362.2h0M108.8,383.1h0M109.8,394.3h0M108.8,403.6h0M97.8,367.2h0M97.6,371.5h0M114.6,402.4h0M103.9,384.6h0M103.0,395.8h0M110.7,398.5h0M119.2,405.1h0M96.3,394.3h0M99.8,364.7h0M112.0,379.4h0M100.3,356.7h0M103.3,358.1h0M102.2,387.1h0M104.9,379.8h0M111.2,371.9h0M104.6,400.4h0M110.2,376.9h0M109.2,379.1h0M104.0,401.9h0M101.5,403.0h0M116.9,400.3h0M99.8,381.6h0M100.0,392.4h0M101.6,385.3h0M99.7,403.6h0M102.8,360.9h0M109.6,381.0h0M108.1,369.5h0M110.0,387.8h0M108.1,380.2h0M111.7,404.8h0M102.7,378.2h0M97.8,396.2h0M101.6,397.7h0M106.3,383.9h0M107.7,370.6h0M104.2,365.9h0M101.1,397.9h0M115.7,405.2h0M118.5,390.4h0M115.5,391.8h0M115.8,396.3h0M100.1,396.9h0M103.3,368.3h0M108.4,373.2h0M115.4,386.7h0M118.4,402.9h0M120.1,399.8h0M103.5,365.3h0M113.0,394.1h0M98.8,392.5h0M97.2,399.6h0M114.8,395.5h0M108.0,375.3h0M99.7,396.0h0M101.4,388.8h0M115.0,390.9h0M108.5,371.9h0M102.5,365.4h0M111.8,390.5h0M118.8,401.8h0M103.0,403.8h0M111.1,404.4h0M102.7,382.3h0M107.5,393.4h0M101.9,366.0h0M103.9,359.5h0M97.0,373.8h0M108.8,403.7h0M111.6,376.8h0M105.8,367.8h0M107.5,404.2h0M98.8,377.8h0M112.8,394.3h0M109.5,388.2h0M119.0,401.4h0M102.0,383.2h0M100.4,394.5h0M97.2,363.5h0M109.4,369.7h0M113.6,392.5h0M103.7,394.5h0M111.8,391.5h0M107.1,377.7h0M98.4,379.9h0M119.5,400.7h0M102.4,390.9h0M106.3,384.8h0M111.9,390.2h0M97.1,379.8h0M105.4,379.5h0M98.4,403.9h0M110.3,371.8h0M103.3,367.1h0M105.9,376.0h0M115.4,391.6h0M106.9,374.4h0M106.6,378.8h0M103.6,387.3h0M105.9,371.3h0M107.5,400.2h0M107.0,374.9h0M118.0,405.1h0M112.4,393.2h0M103.1,392.4h0M112.3,377.9h0M114.9,383.1h0M106.1,394.5h0M102.2,386.8h0M101.2,376.0h0M110.2,397.3h0M110.4,391.8h0M114.7,393.5h0M113.3,384.2h0M109.3,405.6h0M99.1,395.2h0M103.8,392.5h0M109.8,382.5h0M111.3,400.9h0M99.3,386.4h0M107.2,382.6h0M103.2,390.8h0M112.9,397.6h0M105.2,369.7h0M104.6,383.0h0M96.3,374.8h0M103.5,399.9h0M100.2,361.9h0M97.9,395.9h0M107.9,390.9h0M96.4,397.2h0M113.2,391.1h0M104.1,400.1h0M101.2,379.8h0M103.5,378.2h0M115.9,384.6h0M110.9,405.6h0M101.3,367.2h0M106.7,377.7h0M116.3,402.0h0M104.6,391.5h0M183.3,359.0h0M182.9,375.6h0M184.7,378.5h0M183.1,350.4h0M181.0,356.4h0M175.4,382.1h0M181.0,364.0h0M179.2,365.8h0M179.6,361.2h0M178.0,373.9h0M181.7,379.7h0M180.5,383.4h0M178.4,368.8h0M177.0,373.5h0M178.0,374.8h0M178.8,388.4h0M183.5,358.8h0M180.0,362.1h0M182.8,382.9h0M180.9,386.1h0M177.8,367.9h0M179.1,393.2h0M182.8,351.0h0M179.0,374.1h0M177.0,380.6h0M173.3,376.6h0M184.1,369.9h0M181.8,378.1h0M180.7,358.5h0M177.7,375.6h0M176.3,377.4h0M174.7,381.5h0M181.8,364.6h0M184.4,376.4h0M173.2,380.5h0M181.3,386.8h0M182.3,354.5h0M184.4,363.9h0M174.3,380.4h0M172.4,376.6h0M176.9,390.3h0M175.2,384.6h0M174.3,373.0h0M184.5,359.7h0M180.6,380.0h0M176.9,384.7h0M178.3,367.2h0M173.8,378.2h0M183.8,356.6h0M178.4,373.3h0M181.9,376.7h0M181.3,351.2h0M183.2,348.9h0M182.9,379.6h0M181.6,387.0h0M182.7,354.8h0M179.7,395.1h0M180.2,355.9h0M174.1,375.2h0M179.3,373.7h0M176.9,372.0h0M172.4,379.3h0M179.5,367.7h0M181.1,366.6h0M181.1,394.7h0M175.7,386.4h0M182.1,383.8h0M184.0,356.8h0M177.0,391.8h0M181.9,353.0h0M184.7,385.9h0M183.2,366.1h0M183.6,377.3h0M182.8,381.5h0M184.4,354.6h0M177.1,376.7h0M172.7,380.1h0M177.7,392.0h0M176.6,383.5h0M174.5,376.3h0M184.8,380.5h0M174.9,372.3h0M181.3,392.0h0M184.1,369.2h0M176.0,386.0h0M177.9,383.0h0M184.5,357.7h0M174.3,385.4h0M179.3,382.4h0M177.9,390.3h0M180.8,375.8h0M183.1,366.6h0M173.3,380.7h0M172.7,375.0h0M173.5,378.7h0M182.6,365.2h0M173.4,382.3h0M181.4,393.4h0M179.1,377.6h0M183.1,382.6h0M184.6,362.1h0M182.0,380.3h0M179.7,373.8h0M173.6,378.9h0M182.2,362.3h0M177.8,373.6h0M182.4,367.8h0M183.9,372.5h0M177.1,372.2h0M172.9,382.6h0M292.7,370.3h0M294.6,356.4h0M291.9,349.6h0M295.3,335.9h0M291.0,395.7h0M294.5,322.8h0M294.1,336.0h0M292.8,370.5h0M290.6,399.7h0M294.7,326.7h0M292.9,396.6h0M294.7,335.3h0M292.9,343.7h0M295.4,335.5h0M293.8,345.4h0M294.4,396.9h0M294.8,320.7h0M293.3,401.0h0M295.1,339.1h0M293.4,345.1h0M291.2,382.8h0M294.6,346.8h0M292.6,378.6h0M294.4,358.0h0M291.2,390.1h0M293.1,374.0h0M292.3,349.7h0M291.3,403.2h0M294.2,369.9h0M293.7,385.1h0M293.7,394.5h0M293.9,350.2h0M292.6,349.4h0M293.9,348.2h0M292.3,391.9h0M294.8,376.8h0M295.0,351.2h0M293.9,339.3h0M292.0,350.5h0M293.9,395.9h0M294.5,337.1h0M295.2,348.3h0M291.9,354.6h0M291.8,381.5h0M294.8,345.9h0M290.7,387.1h0M292.8,370.0h0M292.6,348.3h0M294.8,325.1h0M291.1,404.7h0M293.5,396.3h0M293.9,358.9h0M294.7,376.2h0M291.2,363.9h0M292.6,362.6h0M294.3,378.0h0M293.5,386.8h0M294.9,325.3h0M291.2,401.8h0M292.0,355.9h0M292.9,367.0h0M291.8,385.9h0M292.1,391.8h0M295.3,323.2h0M291.8,385.0h0M293.6,376.0h0M292.6,363.1h0M291.4,357.9h0M291.7,376.8h0M291.4,364.2h0M291.3,383.9h0M293.9,380.7h0M294.6,355.7h0M292.8,358.4h0M292.4,357.3h0M294.1,379.9h0M292.1,367.2h0M292.4,348.8h0M292.7,400.3h0M295.0,319.8h0M292.1,349.7h0M293.6,391.2h0M294.6,337.5h0M294.4,386.9h0M292.0,385.0h0M294.4,343.9h0M292.8,348.5h0M292.9,387.2h0M291.7,388.7h0M291.2,404.7h0M50.3,390.3h0M46.2,377.6h0M62.7,391.2h0M75.1,375.1h0M86.3,391.9h0M66.2,371.2h0M54.7,377.3h0M61.5,393.8h0M70.6,390.7h0M43.6,376.1h0M77.7,378.6h0M51.7,371.5h0M42.6,380.4h0M68.1,380.1h0M69.1,377.3h0M40.8,387.0h0M57.3,382.4h0M59.4,376.8h0M42.6,377.4h0M55.3,372.8h0M41.5,382.1h0M40.9,392.2h0M58.5,381.2h0M67.1,370.5h0M45.2,389.8h0M68.6,382.4h0M57.7,389.0h0M65.9,390.0h0M83.1,392.6h0M77.4,387.0h0M63.8,383.4h0M69.8,383.2h0M82.2,391.7h0M42.6,389.0h0M71.7,385.1h0M54.7,395.8h0M48.4,408.5h0M55.3,398.8h0M49.7,398.1h0M52.5,415.5h0M52.2,404.9h0M54.4,395.3h0M44.8,433.9h0M54.3,437.6h0M45.5,396.4h0M69.8,437.5h0M57.2,453.3h0M66.3,396.0h0M65.3,410.8h0M58.1,449.4h0M74.1,399.5h0M64.7,407.0h0M69.1,398.9h0M62.5,415.2h0M65.2,416.8h0M67.6,453.8h0M74.1,451.1h0M72.1,404.6h0M60.8,418.4h0M68.5,428.3h0M62.8,458.0h0M62.1,395.7h0M57.8,403.6h0M70.2,445.9h0M56.9,405.0h0M60.7,441.7h0M73.4,406.5h0M58.0,455.9h0M74.9,436.4h0M65.2,438.6h0M70.9,421.6h0M61.3,422.7h0M68.9,409.9h0M68.4,400.5h0M74.8,403.7h0M60.4,455.4h0M74.4,452.6h0M72.3,446.5h0M71.9,425.6h0M57.5,437.5h0M72.2,445.6h0M56.9,397.0h0M70.2,420.2h0M73.4,457.9h0M64.7,433.3h0M68.9,434.7h0M63.2,430.7h0M57.4,450.5h0M70.1,442.9h0M65.0,403.4h0M82.7,433.7h0M84.3,398.8h0M75.5,414.4h0M79.4,404.5h0M79.0,415.5h0M86.6,451.6h0M86.3,395.7h0M89.4,428.5h0M87.2,428.9h0M81.1,410.8h0M76.6,432.5h0M76.3,433.7h0M90.1,432.8h0M85.2,443.3h0M90.9,443.7h0M91.4,418.3h0M75.6,428.9h0M85.7,447.6h0M85.3,412.3h0M75.5,445.1h0M85.5,457.4h0M85.0,446.8h0M87.9,457.9h0M82.9,450.3h0M81.8,395.5h0M103.2,415.6h0M120.4,417.9h0M101.9,436.5h0M97.3,413.4h0M105.0,406.2h0M110.2,419.4h0M115.5,415.0h0M120.0,408.7h0M108.5,409.9h0M95.1,413.2h0M117.9,412.7h0M107.4,425.4h0M101.6,426.0h0M96.5,415.5h0M102.1,445.7h0M114.6,437.2h0M110.1,449.7h0M113.9,404.5h0M98.1,440.6h0M116.4,459.9h0M114.8,407.3h0M109.4,431.9h0M110.4,406.5h0M119.8,424.5h0M101.7,459.1h0M104.7,404.8h0M112.0,411.3h0M100.4,413.2h0M110.4,414.0h0M111.9,452.9h0M120.3,451.5h0M118.5,411.0h0M116.0,405.3h0M109.8,404.9h0M97.3,456.4h0M98.0,438.4h0M108.4,403.7h0M115.2,404.6h0M117.7,446.0h0M107.6,420.7h0M95.5,437.1h0M95.8,425.5h0M118.7,435.6h0M97.8,438.6h0M112.9,414.5h0M114.7,428.8h0M105.4,425.5h0M101.9,412.5h0M117.7,415.5h0M114.7,416.4h0M99.7,403.7h0M119.6,440.9h0M120.1,429.5h0M96.4,407.5h0M96.0,431.1h0M110.8,457.0h0M102.4,410.2h0M100.5,406.9h0M95.5,423.5h0M105.6,416.5h0M119.3,413.7h0M116.1,425.9h0M97.4,404.0h0M110.5,450.4h0M96.1,437.3h0M100.8,436.2h0M116.3,439.1h0M101.1,407.2h0M119.7,453.7h0M118.6,426.4h0M96.1,416.5h0M118.3,404.7h0M102.4,404.2h0M117.5,415.7h0M96.9,415.8h0M100.0,420.0h0M110.7,434.2h0M97.3,426.0h0M96.2,420.5h0M115.6,411.4h0M116.0,410.6h0M104.9,444.0h0M94.9,427.2h0M108.6,438.2h0M119.2,436.7h0M100.5,408.8h0M107.2,412.2h0M109.0,405.3h0M112.7,419.1h0M96.1,406.1h0M118.9,448.4h0M117.5,417.6h0M120.2,407.7h0M113.5,455.9h0M100.2,403.7h0M98.0,405.1h0M115.5,430.6h0M107.1,405.9h0M111.3,406.6h0M98.2,429.8h0M111.4,444.6h0M116.1,406.6h0M102.6,406.8h0M107.4,404.0h0M117.2,435.8h0M115.6,423.2h0M118.3,447.2h0M116.2,445.0h0M100.3,415.3h0M96.2,441.8h0M107.0,459.6h0M102.2,419.9h0M117.1,458.1h0M114.3,451.0h0M118.6,411.8h0M110.7,404.6h0M112.2,456.7h0M107.8,406.9h0M109.5,404.7h0M106.7,405.0h0M105.5,445.9h0M113.9,448.7h0M106.6,420.4h0M96.2,443.7h0M109.5,418.6h0M98.5,421.4h0M96.4,406.1h0M96.8,419.5h0M98.3,446.6h0M110.5,449.8h0M40.6,297.6h0M39.1,277.5h0M40.8,283.2h0M41.1,300.9h0M38.6,289.6h0M42.3,274.4h0M40.8,294.7h0M37.8,285.8h0M39.8,274.8h0M38.7,296.3h0M37.6,301.5h0M42.1,276.6h0M178.1,396.3h0M181.2,411.4h0M181.5,455.0h0M182.5,413.6h0M181.4,414.2h0M182.5,412.2h0M183.3,439.7h0M183.5,417.9h0M184.0,433.4h0M178.9,437.6h0M179.3,402.7h0M177.3,435.3h0M178.8,401.8h0M182.7,404.6h0M182.5,413.2h0M179.7,456.3h0M183.0,449.9h0M184.1,434.8h0M183.8,436.0h0M181.3,416.5h0M179.8,432.6h0M178.8,437.3h0M183.3,442.5h0M178.7,397.1h0M179.7,423.7h0M183.2,431.1h0M180.8,434.9h0M181.0,439.7h0M181.1,431.5h0M178.7,403.4h0M180.2,453.3h0M183.9,414.5h0M181.2,429.2h0M180.3,406.9h0M182.8,400.9h0M178.7,413.5h0M178.5,407.9h0M177.6,429.6h0M178.3,437.4h0M181.4,436.2h0M180.5,435.4h0M179.2,425.7h0M182.0,409.4h0M182.4,433.6h0M184.1,435.6h0M181.0,445.6h0M179.1,419.7h0M180.2,443.4h0M182.3,407.4h0M184.0,459.6h0M180.6,460.5h0M181.5,420.5h0M177.7,396.4h0M181.3,442.3h0M181.5,446.5h0M291.3,442.1h0M292.4,435.5h0M292.0,437.5h0M292.1,406.8h0M292.8,439.8h0M291.3,456.7h0M291.6,410.1h0M291.8,419.7h0M289.7,451.4h0M289.7,440.3h0M289.7,428.6h0M294.8,406.7h0M293.9,403.8h0M294.6,452.7h0M291.4,435.7h0M291.5,410.0h0M290.8,424.3h0M294.0,407.8h0M292.0,426.0h0M292.0,445.3h0M292.3,417.9h0M294.5,433.4h0M290.3,430.4h0M294.0,405.1h0M292.6,426.9h0M290.4,409.8h0M290.1,424.1h0M291.2,433.6h0M290.3,434.7h0M291.6,445.5h0M293.6,413.5h0M294.6,430.3h0M290.7,414.4h0M293.0,424.1h0M292.8,414.4h0M293.9,414.9h0M294.0,424.1h0M291.1,432.2h0M291.9,430.4h0M292.1,455.4h0" stroke="#ff4c4c" stroke-width="2.3" stroke-linecap="round" fill="none"/>
<path d="M36.4,406.22H310.7" stroke="#329628" stroke-width="1.5"/>
<polyline points="36.73,264.6 36.73,265.5 36.73,266.39 36.74,267.29 36.74,268.18 36.74,269.08 36.74,269.97 36.74,270.87 36.75,271.76 36.75,272.66 36.75,273.55 36.75,274.45 36.76,275.34 36.76,276.24 36.76,277.13 36.76,278.03 36.77,278.92 36.77,279.82 36.77,280.71 36.78,281.61 36.78,282.5 36.79,283.4 36.79,284.3 36.8,285.19 36.8,286.09 36.81,286.98 36.81,287.88 36.82,288.77 36.82,289.67 36.83,290.56 36.83,291.46 36.84,292.35 36.85,293.25 36.86,294.14 36.86,295.04 36.87,295.93 36.88,296.83 36.89,297.72 36.9,298.62 36.91,299.51 36.92,300.41 36.93,301.31 36.94,302.2 36.95,303.1 36.97,303.99 36.98,304.89 36.99,305.78 37.01,306.68 37.02,307.57 37.04,308.47 37.06,309.36 37.08,310.26 37.09,311.15 37.11,312.05 37.13,312.94 37.16,313.84 37.18,314.73 37.2,315.63 37.23,316.52 37.25,317.42 37.28,318.31 37.31,319.21 37.34,320.11 37.37,321 37.41,321.9 37.44,322.79 37.48,323.69 37.52,324.58 37.56,325.48 37.6,326.37 37.65,327.27 37.7,328.16 37.75,329.06 37.8,329.95 37.85,330.85 37.91,331.74 37.97,332.64 38.03,333.53 38.1,334.43 38.17,335.32 38.24,336.22 38.32,337.12 38.4,338.01 38.49,338.91 38.58,339.8 38.67,340.7 38.77,341.59 38.87,342.49 38.98,343.38 39.1,344.28 39.21,345.17 39.34,346.07 39.47,346.96 39.61,347.86 39.76,348.75 39.91,349.65 40.07,350.54 40.24,351.44 40.42,352.33 40.6,353.23 40.8,354.12 41,355.02 41.22,355.92 41.44,356.81 41.68,357.71 41.93,358.6 42.19,359.5 42.46,360.39 42.75,361.29 43.06,362.18 43.37,363.08 43.71,363.97 44.06,364.87 44.42,365.76 44.81,366.66 45.22,367.55 45.64,368.45 46.09,369.34 46.56,370.24 47.05,371.13 47.57,372.03 48.11,372.92 48.68,373.82 49.28,374.72 49.91,375.61 50.57,376.51 51.27,377.4 51.99,378.3 52.76,379.19 53.56,380.09 54.41,380.98 55.29,381.88 56.22,382.77 57.2,383.67 58.22,384.56 59.3,385.46 60.43,386.35 61.61,387.25 62.86,388.14 64.17,389.04 65.54,389.93 66.98,390.83 68.5,391.73 70.09,392.62 71.75,393.52 73.51,394.41 75.35,395.31 77.28,396.2 79.31,397.1 81.44,397.99 83.68,398.89 86.03,399.78 88.49,400.68 91.08,401.57 93.8,402.47 96.66,403.36 99.65,404.26 102.8,405.15 106.11,406.05 109.58,406.94 113.22,407.84 117.05,408.73 121.06,409.63 125.28,410.53 129.71,411.42 134.36,412.32 139.24,413.21 144.37,414.11 149.76,415 155.41,415.9 161.34,416.79 167.58,417.69 174.12,418.58 180.99,419.48 188.2,420.37 195.78,421.27 203.73,422.16 212.09,423.06 220.86,423.95 230.06,424.85 239.73,425.74 249.88,426.64 260.54,427.54 271.73,428.43 283.49,429.33 295.82,430.22 308.78,431.12 310.7,431.26" fill="none" stroke="#111" stroke-width="1.1" stroke-dasharray="3,2"/>
<path d="M229.8,351 L245.3,410.5" stroke="#2f9a2f" stroke-width="1.2"/>
<polygon points="245.9,413.2 243.2,406.6 246.9,405.8" fill="#2f9a2f"/>
<text x="62" y="309.8" font-size="11.1" text-anchor="start" font-weight="bold" font-style="normal" fill="#1e1ee6" >Population Channel</text>
<text x="183.2" y="348.5" font-size="11.2" text-anchor="start" font-weight="bold" font-style="normal" fill="#3c962c" >Coherence Channel</text>
<text x="68.8" y="446.8" font-size="11.2" text-anchor="start" font-weight="bold" font-style="normal" fill="#b03535" >Overdamped Regime</text>
<rect x="214.9" y="268.6" width="92.7" height="27.8" rx="1.5" fill="#eaedf9" fill-opacity="0.93" stroke="#d6dbef" stroke-width="0.6"/>
<circle cx="225.9" cy="276.4" r="1.2" fill="#16167e"/>
<circle cx="225.9" cy="289.1" r="1.2" fill="#ff4c4c"/>
<text x="240.3" y="278.1" font-size="7.8" font-weight="bold">IFC<tspan font-size="5" font-style="italic" dy="-3">T</tspan><tspan font-size="5" dx="-2.8" dy="5">2</tspan><tspan dy="-2">+3ph_300 K</tspan></text>
<text x="240.3" y="291.0" font-size="7.8" font-weight="bold">IFC<tspan font-size="5" font-style="italic" dy="-3">T</tspan><tspan font-size="5" dx="-2.8" dy="5">2</tspan><tspan dy="-2">+3,4ph_300 K</tspan></text>
<rect x="36.4" y="264.6" width="274.3" height="197.4" fill="none" stroke="#000" stroke-width="1.1"/>
<path d="M39.93,462.0v-2M39.93,264.6v2M43.15,462.0v-2M43.15,264.6v2M46.38,462.0v-2M46.38,264.6v2M49.6,462.0v-2M49.6,264.6v2M52.83,462.0v-2M52.83,264.6v2M56.06,462.0v-2M56.06,264.6v2M59.28,462.0v-2M59.28,264.6v2M62.51,462.0v-2M62.51,264.6v2M65.73,462.0v-2M65.73,264.6v2M68.96,462.0v-4M68.96,264.6v4M72.19,462.0v-2M72.19,264.6v2M75.41,462.0v-2M75.41,264.6v2M78.64,462.0v-2M78.64,264.6v2M81.86,462.0v-2M81.86,264.6v2M85.09,462.0v-2M85.09,264.6v2M88.32,462.0v-2M88.32,264.6v2M91.54,462.0v-2M91.54,264.6v2M94.77,462.0v-2M94.77,264.6v2M97.99,462.0v-2M97.99,264.6v2M101.22,462.0v-4M101.22,264.6v4M104.45,462.0v-2M104.45,264.6v2M107.67,462.0v-2M107.67,264.6v2M110.9,462.0v-2M110.9,264.6v2M114.12,462.0v-2M114.12,264.6v2M117.35,462.0v-2M117.35,264.6v2M120.58,462.0v-2M120.58,264.6v2M123.8,462.0v-2M123.8,264.6v2M127.03,462.0v-2M127.03,264.6v2M130.25,462.0v-2M130.25,264.6v2M133.48,462.0v-4M133.48,264.6v4M136.71,462.0v-2M136.71,264.6v2M139.93,462.0v-2M139.93,264.6v2M143.16,462.0v-2M143.16,264.6v2M146.38,462.0v-2M146.38,264.6v2M149.61,462.0v-2M149.61,264.6v2M152.84,462.0v-2M152.84,264.6v2M156.06,462.0v-2M156.06,264.6v2M159.29,462.0v-2M159.29,264.6v2M162.51,462.0v-2M162.51,264.6v2M165.74,462.0v-4M165.74,264.6v4M168.97,462.0v-2M168.97,264.6v2M172.19,462.0v-2M172.19,264.6v2M175.42,462.0v-2M175.42,264.6v2M178.64,462.0v-2M178.64,264.6v2M181.87,462.0v-2M181.87,264.6v2M185.1,462.0v-2M185.1,264.6v2M188.32,462.0v-2M188.32,264.6v2M191.55,462.0v-2M191.55,264.6v2M194.77,462.0v-2M194.77,264.6v2M198,462.0v-4M198,264.6v4M201.23,462.0v-2M201.23,264.6v2M204.45,462.0v-2M204.45,264.6v2M207.68,462.0v-2M207.68,264.6v2M210.9,462.0v-2M210.9,264.6v2M214.13,462.0v-2M214.13,264.6v2M217.36,462.0v-2M217.36,264.6v2M220.58,462.0v-2M220.58,264.6v2M223.81,462.0v-2M223.81,264.6v2M227.03,462.0v-2M227.03,264.6v2M230.26,462.0v-4M230.26,264.6v4M233.49,462.0v-2M233.49,264.6v2M236.71,462.0v-2M236.71,264.6v2M239.94,462.0v-2M239.94,264.6v2M243.16,462.0v-2M243.16,264.6v2M246.39,462.0v-2M246.39,264.6v2M249.62,462.0v-2M249.62,264.6v2M252.84,462.0v-2M252.84,264.6v2M256.07,462.0v-2M256.07,264.6v2M259.29,462.0v-2M259.29,264.6v2M262.52,462.0v-4M262.52,264.6v4M265.75,462.0v-2M265.75,264.6v2M268.97,462.0v-2M268.97,264.6v2M272.2,462.0v-2M272.2,264.6v2M275.42,462.0v-2M275.42,264.6v2M278.65,462.0v-2M278.65,264.6v2M281.88,462.0v-2M281.88,264.6v2M285.1,462.0v-2M285.1,264.6v2M288.33,462.0v-2M288.33,264.6v2M291.55,462.0v-2M291.55,264.6v2M294.78,462.0v-4M294.78,264.6v4M298.01,462.0v-2M298.01,264.6v2M301.23,462.0v-2M301.23,264.6v2M304.46,462.0v-2M304.46,264.6v2M307.68,462.0v-2M307.68,264.6v2M36.4,455.39h2M310.7,455.39h-2M36.4,450.11h2M310.7,450.11h-2M36.4,446.02h2M310.7,446.02h-2M36.4,442.67h2M310.7,442.67h-2M36.4,439.84h2M310.7,439.84h-2M36.4,437.39h2M310.7,437.39h-2M36.4,435.23h2M310.7,435.23h-2M36.4,433.3h4M310.7,433.3h-4M36.4,420.58h2M310.7,420.58h-2M36.4,413.14h2M310.7,413.14h-2M36.4,407.86h2M310.7,407.86h-2M36.4,403.77h2M310.7,403.77h-2M36.4,400.42h2M310.7,400.42h-2M36.4,397.59h2M310.7,397.59h-2M36.4,395.14h2M310.7,395.14h-2M36.4,392.98h2M310.7,392.98h-2M36.4,391.05h4M310.7,391.05h-4M36.4,378.33h2M310.7,378.33h-2M36.4,370.89h2M310.7,370.89h-2M36.4,365.61h2M310.7,365.61h-2M36.4,361.52h2M310.7,361.52h-2M36.4,358.17h2M310.7,358.17h-2M36.4,355.34h2M310.7,355.34h-2M36.4,352.89h2M310.7,352.89h-2M36.4,350.73h2M310.7,350.73h-2M36.4,348.8h4M310.7,348.8h-4M36.4,336.08h2M310.7,336.08h-2M36.4,328.64h2M310.7,328.64h-2M36.4,323.36h2M310.7,323.36h-2M36.4,319.27h2M310.7,319.27h-2M36.4,315.92h2M310.7,315.92h-2M36.4,313.09h2M310.7,313.09h-2M36.4,310.64h2M310.7,310.64h-2M36.4,308.48h2M310.7,308.48h-2M36.4,306.55h4M310.7,306.55h-4M36.4,293.83h2M310.7,293.83h-2M36.4,286.39h2M310.7,286.39h-2M36.4,281.11h2M310.7,281.11h-2M36.4,277.02h2M310.7,277.02h-2M36.4,273.67h2M310.7,273.67h-2M36.4,270.84h2M310.7,270.84h-2M36.4,268.39h2M310.7,268.39h-2M36.4,266.23h2M310.7,266.23h-2" stroke="#000" stroke-width="0.9" fill="none"/>
<text x="36.7" y="473.3" font-size="11.2" text-anchor="middle" font-weight="normal" font-style="normal" fill="#000" >0</text>
<text x="68.96" y="473.3" font-size="11.2" text-anchor="middle" font-weight="normal" font-style="normal" fill="#000" >2</text>
<text x="101.22" y="473.3" font-size="11.2" text-anchor="middle" font-weight="normal" font-style="normal" fill="#000" >4</text>
<text x="133.48" y="473.3" font-size="11.2" text-anchor="middle" font-weight="normal" font-style="normal" fill="#000" >6</text>
<text x="165.74" y="473.3" font-size="11.2" text-anchor="middle" font-weight="normal" font-style="normal" fill="#000" >8</text>
<text x="198" y="473.3" font-size="11.2" text-anchor="middle" font-weight="normal" font-style="normal" fill="#000" >10</text>
<text x="230.26" y="473.3" font-size="11.2" text-anchor="middle" font-weight="normal" font-style="normal" fill="#000" >12</text>
<text x="262.52" y="473.3" font-size="11.2" text-anchor="middle" font-weight="normal" font-style="normal" fill="#000" >14</text>
<text x="294.78" y="473.3" font-size="11.2" text-anchor="middle" font-weight="normal" font-style="normal" fill="#000" >16</text>
<text x="173" y="485.3" font-size="11.2" text-anchor="middle" font-weight="normal" font-style="normal" fill="#000" >Phonon energy (THz)</text>
<text x="33.8" y="270.7" font-size="11.8" text-anchor="end">10<tspan font-size="8" dy="-5.2">2</tspan></text>
<text x="33.8" y="312.95" font-size="11.8" text-anchor="end">10<tspan font-size="8" dy="-5.2">1</tspan></text>
<text x="33.8" y="355.2" font-size="11.8" text-anchor="end">10<tspan font-size="8" dy="-5.2">0</tspan></text>
<text x="33.8" y="397.45" font-size="11.8" text-anchor="end">10<tspan font-size="8" dy="-5.2">−1</tspan></text>
<text x="33.8" y="439.7" font-size="11.8" text-anchor="end">10<tspan font-size="8" dy="-5.2">−2</tspan></text>
<text transform="translate(9.6,360) rotate(-90)" font-size="12.2" text-anchor="middle">Phonon lifetime (ps)</text>
<text x="-1.1" y="256.4" font-size="27" text-anchor="start" font-weight="normal" font-style="normal" fill="#000" >c</text>
<polygon points="399.52,442.07 466.6,359.56 465.68,252.18 396.5,325.32" fill="#f8f8f8" stroke="#d4d4d4" stroke-width="0.6"/>
<polygon points="466.6,359.56 621.98,387.56 625.36,277.18 465.68,252.18" fill="#f8f8f8" stroke="#d4d4d4" stroke-width="0.6"/>
<polygon points="466.6,359.56 621.98,387.56 569.61,476.31 399.52,442.07" fill="#f8f8f8" stroke="#d4d4d4" stroke-width="0.6"/>
<path d="M466.6,359.56L465.68,252.18M466.6,359.56L465.68,252.18M466.6,359.56L399.52,442.07M466.6,359.56L621.98,387.56M454.25,374.76L452.97,265.62M496.85,365.01L496.74,257.05M496.85,365.01L432.54,448.71M454.25,374.76L612.36,403.86M441.39,390.57L439.72,279.62M527.5,370.54L528.23,261.97M527.5,370.54L466.04,455.46M441.39,390.57L602.34,420.84M428.01,407.03L425.92,294.21M558.57,376.13L560.16,266.97M558.57,376.13L500.05,462.3M428.01,407.03L591.89,438.54M414.06,424.18L411.53,309.43M590.06,381.81L592.53,272.04M590.06,381.81L534.56,469.25M414.06,424.18L580.99,457.01M399.52,442.07L396.5,325.32M621.98,387.56L625.36,277.18M621.98,387.56L569.61,476.31M399.52,442.07L569.61,476.31M399.52,442.07L466.6,359.56M466.6,359.56L621.98,387.56M399.16,428.26L466.49,346.83M466.49,346.83L622.38,374.48M398.8,414.36L466.38,334.02M466.38,334.02L622.78,361.32M398.44,400.35L466.27,321.13M466.27,321.13L623.19,348.07M398.08,386.25L466.16,308.15M466.16,308.15L623.6,334.73M397.71,372.05L466.05,295.09M466.05,295.09L624.01,321.31M397.34,357.74L465.94,281.94M465.94,281.94L624.42,307.79M396.96,343.33L465.82,268.71M465.82,268.71L624.84,294.18M396.59,328.82L465.71,255.39M465.71,255.39L625.26,280.48" stroke="#c9c9c9" stroke-width="0.8" fill="none"/>
<path d="M399.52,442.07L396.5,325.32M398.63,443.16L568.91,477.49M623.91,387.91L571.73,476.73M397.92,442.67L400.72,441.67M397.56,428.86L400.36,427.86M397.2,414.96L400,413.96M396.84,400.95L399.64,399.95M396.48,386.85L399.28,385.85M396.11,372.65L398.91,371.65M395.74,358.34L398.54,357.34M395.36,343.93L398.16,342.93M394.99,329.42L397.79,328.42M398.63,443.16L396.54,445.74M623.91,387.91L628.42,388.72M431.68,449.83L429.67,452.44M614.33,404.22L618.92,405.07M465.22,456.59L463.3,459.24M604.34,421.22L609.02,422.09M499.27,463.45L497.44,466.14M593.93,438.93L598.7,439.85M533.82,470.42L532.09,473.15M583.07,457.42L587.93,458.38M568.91,477.49L567.27,480.27M571.73,476.73L576.68,477.73" stroke="#3a3a3a" stroke-width="0.8" fill="none"/>
<polygon points="455.6,381.3 463.2,368 470.8,364.2 492.6,364.8 505.9,368 517.7,371.3 504.4,393.3 486.9,391.4 462.3,388 452.8,385.1" fill="#736d86" stroke="#736d86" stroke-width="0.8" stroke-linejoin="round"/>
<path d="M493.2,385.8l2.7,1.0M500.8,391.0l1.1,0.2M483.2,371.4l2.2,0.6M502.5,368.8l2.8,0.3M492.9,367.9l1.0,0.4M466.4,370.5l3.2,1.1M487.8,383.9l1.5,0.6M497.6,392.3l3.0,0.5M476.2,369.0l1.3,0.1M472.4,381.8l1.0,0.3M474.7,373.2l2.8,0.6M473.3,378.2l2.6,0.2M501.5,388.8l1.0,0.3M476.6,381.0l1.0,0.1M465.6,386.2l3.0,1.2M475.2,374.5l2.2,0.7M459.8,386.0l2.8,1.0M492.4,390.9l1.7,0.7M488.2,373.3l1.7,0.2M479.1,371.1l2.3,0.8M482.4,376.5l1.1,0.4M500.3,391.8l2.4,0.8M459.7,376.8l1.3,0.5M471.9,377.4l3.2,1.1M484.5,385.4l2.1,0.3M479.0,368.5l1.8,0.7M485.2,374.0l1.2,0.2M503.6,389.4l1.8,0.6M503.1,384.4l2.5,0.8M476.4,384.7l1.6,0.4M502.8,384.3l1.6,0.6M495.0,381.1l1.0,0.2M469.1,383.7l2.0,0.7M494.8,387.4l1.8,0.5M500.7,388.3l1.8,0.6M509.3,384.2l3.1,1.2M486.4,379.6l1.4,0.5M497.7,385.1l2.6,0.3M503.4,381.1l2.5,0.5M493.3,386.7l2.4,0.7M481.4,383.1l1.5,0.4M493.7,365.4l2.0,0.3M473.4,369.5l1.4,0.1M483.0,375.3l2.3,0.6M470.9,376.1l1.3,0.4M477.1,365.2l2.3,0.2M488.2,374.1l2.3,0.9M505.9,376.4l2.8,0.8M476.8,368.3l2.3,0.6M492.3,374.4l3.0,0.1M459.8,380.7l2.4,0.2M493.7,390.1l1.8,0.4M467.5,372.7l3.1,0.6M491.5,371.8l3.2,0.7M479.8,373.5l3.2,0.7M471.4,378.1l1.3,0.3M481.6,372.7l2.7,0.9M503.5,371.3l1.6,0.2M492.3,378.0l2.4,0.6M501.1,367.6l2.7,0.4M487.4,374.0l1.7,0.4M482.9,374.7l2.6,0.7M510.4,380.1l1.0,0.3M480.6,381.0l2.6,0.7M484.1,390.7l1.8,0.3M508.1,369.9l1.7,0.6M497.9,376.8l1.6,0.5M483.8,380.2l2.1,0.3M462.8,381.2l2.8,0.2M467.7,388.1l2.7,0.8M454.5,385.2l3.2,1.3M507.4,370.6l2.4,0.9M499.0,368.1l1.6,0.6M462.5,382.0l1.9,0.2M493.2,365.5l1.2,0.2M490.1,385.8l2.9,0.3M480.8,373.4l2.3,0.5M513.7,375.1l1.1,0.3M462.6,382.6l2.1,0.8M488.8,382.3l1.6,0.4M469.3,386.0l2.1,0.2M468.0,375.0l2.6,0.3M499.1,383.3l1.2,0.3M491.3,371.1l2.9,0.6M473.8,387.4l1.1,0.3M467.3,367.6l3.1,0.9M506.1,368.3l2.4,0.4M468.1,373.9l2.4,0.4M477.8,368.2l2.8,0.8M505.0,376.8l2.9,0.7M491.3,380.9l2.6,0.5M510.5,378.2l2.7,0.1M483.3,390.1l2.4,0.5M483.0,367.1l1.3,0.1M477.1,375.4l2.9,0.3M469.3,372.3l1.4,0.2M468.1,378.2l1.1,0.4M497.4,383.8l2.0,0.8M460.5,383.7l1.6,0.5M500.1,368.9l1.4,0.1M467.8,366.5l1.9,0.7M476.4,373.3l2.0,0.3M500.3,385.1l1.4,0.2M496.4,391.6l2.4,0.5M479.4,365.5l2.2,0.9M486.5,374.4l1.2,0.1M511.1,378.5l3.1,0.2M468.6,365.7l1.9,0.1M469.4,376.1l1.7,0.1M464.4,379.0l1.9,0.4M459.8,380.0l3.0,0.8M508.4,370.4l1.0,0.2M484.4,380.8l1.8,0.5M499.9,390.8l1.7,0.3M506.4,370.7l1.3,0.2M458.5,386.7l2.8,0.4M468.7,366.7l1.9,0.5M468.7,366.0l2.5,0.2M465.8,372.5l1.8,0.2M480.1,373.3l2.7,0.6M502.1,380.9l2.0,0.7M495.3,392.0l2.6,0.8M470.2,387.8l1.8,0.2M469.8,383.9l1.6,0.1M502.4,380.4l1.1,0.1M461.2,374.6l2.9,1.1M492.5,370.9l1.9,0.3M474.2,364.6l2.3,0.8M500.0,367.0l2.2,0.2M498.8,377.2l3.1,1.0M460.5,373.4l3.0,0.6M481.0,377.0l2.7,1.0M491.5,367.2l2.8,0.5M484.1,389.9l1.9,0.2M470.8,370.1l2.2,0.4M501.5,371.2l1.8,0.2M508.0,382.2l1.9,0.2M506.8,378.5l1.1,0.1M459.2,385.1l3.0,0.4M504.5,373.6l2.5,0.9M493.2,387.5l1.8,0.1M486.0,381.3l1.4,0.3M473.4,365.0l1.7,0.3M483.7,384.7l1.9,0.7M505.7,391.1l2.5,0.7M487.6,387.4l1.8,0.5M496.9,379.4l1.6,0.1M490.5,386.3l2.6,0.4M513.1,372.2l2.6,0.2M501.7,383.7l3.1,1.1M497.4,388.6l2.6,0.7M466.3,379.2l3.0,0.4M478.1,369.4l2.4,0.9M477.9,367.4l2.5,0.6M499.2,375.1l3.0,0.4M472.6,372.0l2.4,0.9M463.7,382.6l2.7,0.3M456.9,380.7l2.8,1.0M500.0,376.3l1.9,0.5M511.5,373.0l1.6,0.4M489.3,381.8l1.4,0.2M491.4,383.0l2.5,0.8M473.5,388.9l2.4,0.9M467.7,384.5l2.8,0.6M462.7,382.1l1.2,0.4" stroke="#48415c" stroke-width="0.85" fill="none"/>
<path d="M500.6,388.0l2.8,0.8M477.1,377.5l2.5,0.8M488.1,375.1l1.3,0.3M477.1,384.1l2.1,0.8M502.1,385.2l1.7,0.2M483.9,374.5l2.6,1.0M477.6,372.7l2.1,0.6M504.0,381.0l1.7,0.3M507.8,379.3l1.1,0.2M468.2,383.6l1.2,0.2M459.0,378.1l3.2,0.8M502.5,374.7l1.0,0.1M482.5,375.3l2.1,0.1M481.5,377.9l1.2,0.2M485.8,365.7l1.9,0.6M481.0,381.5l3.0,0.8M494.1,365.2l1.1,0.3M479.6,389.6l2.8,1.0M501.9,390.2l1.3,0.4M480.1,372.1l2.0,0.3M496.1,367.8l1.4,0.3M491.7,368.2l1.5,0.6M464.8,376.7l1.6,0.5M477.0,386.8l1.3,0.3M494.6,375.1l1.8,0.4M468.4,380.7l1.6,0.4M500.3,368.1l2.1,0.6M480.0,378.9l2.3,0.8M475.2,364.8l1.7,0.3M495.3,391.1l1.8,0.4M499.1,391.5l3.1,1.2M472.4,369.0l3.1,0.2M481.9,385.6l2.2,0.4M512.8,372.9l2.2,0.8M461.8,374.4l2.1,0.5M466.3,377.4l1.1,0.1M475.0,368.4l3.1,0.4M470.7,387.0l2.6,0.4M506.6,382.4l1.9,0.5M468.7,371.9l2.9,0.6M500.8,380.5l1.0,0.1M506.3,378.6l2.9,0.2M491.0,367.6l2.6,0.7M492.5,370.6l3.1,0.3M457.0,384.1l1.2,0.1M482.7,383.1l3.0,0.9M457.3,382.9l2.9,0.3M501.8,371.7l1.7,0.1M502.0,379.2l3.0,0.6M462.9,370.5l1.6,0.6M466.1,366.8l1.8,0.1M480.4,382.3l2.4,0.3M461.8,378.5l2.5,0.5M490.0,390.7l1.3,0.2M484.8,379.8l3.0,0.7M495.8,376.4l2.7,0.9M471.9,367.3l1.6,0.3M510.5,371.9l2.4,0.7M502.8,374.0l1.2,0.3M507.6,381.2l1.1,0.4M477.7,382.7l2.6,0.4M479.3,373.8l1.2,0.1M499.3,376.1l2.9,0.2M472.4,369.4l3.1,1.0M511.0,378.9l1.2,0.2M489.5,372.6l1.2,0.3" stroke="#a09bb0" stroke-width="0.7" fill="none"/>
<path d="M463.6,368.6h0.9M462.3,371.8h0.9M462.2,367.9h1.1M460.7,373.8h1.1M460.3,374.0h1.6M469.4,366.0h1.4M466.3,368.2h1.4M481.5,363.9h1.4M477.0,363.7h1.4M487.0,364.4h1.0M485.9,364.2h2.0M473.9,364.6h1.3M484.6,364.2h1.6M472.5,363.9h1.2M493.2,364.5h1.7M496.0,365.2h1.4M504.9,367.2h1.2M504.9,368.3h1.3M518.3,372.2h1.7M516.7,370.4h1.2M515.5,370.0h1.8M513.1,371.5h1.4M507.0,385.9h1.0M512.7,382.2h1.7M507.6,390.0h1.4M516.8,376.3h1.8M515.2,375.4h1.3M509.2,386.2h0.8M507.7,385.0h1.4M511.4,382.2h1.2M494.0,391.2h1.6M503.2,394.9h1.0M504.9,393.3h0.9M494.9,393.0h1.4M496.9,392.6h1.7M472.2,388.2h1.7M465.8,388.4h1.9M462.7,388.4h1.2M484.2,391.3h1.1M486.1,391.7h1.7M478.5,392.0h1.9M470.1,390.0h1.3M477.8,390.2h1.7M456.6,384.9h1.7M455.4,384.7h1.3M455.0,384.5h1.7M454.3,384.2h1.1" stroke="#736d86" stroke-width="1.3" fill="none"/>
<polygon points="520.7,371.3 536.3,373.2 543.9,379.4 533.4,399.7 505.9,396.5" fill="#736d86" stroke="#736d86" stroke-width="0.8" stroke-linejoin="round"/>
<path d="M531.8,393.2l1.4,0.3M537.8,381.7l1.2,0.3M519.7,375.4l1.6,0.1M526.8,398.5l2.8,0.5M534.7,384.9l2.8,0.6M526.3,376.1l1.9,0.4M537.2,377.8l1.6,0.6M514.2,390.2l2.3,0.2M533.6,382.9l1.7,0.6M535.5,380.1l2.5,0.2M525.6,373.6l2.4,0.9M530.1,372.5l2.1,0.5M522.7,375.6l1.6,0.3M541.3,379.6l1.2,0.2M518.9,377.2l2.5,0.5M509.6,395.8l1.7,0.5M523.1,396.1l1.1,0.1M516.8,378.8l2.8,0.6M519.1,385.7l2.9,0.7M523.1,390.0l2.4,0.5M522.1,375.0l2.0,0.7M517.5,381.7l2.3,0.6M510.0,392.8l3.0,0.2M516.7,389.9l1.1,0.2M532.3,385.8l2.9,1.0M529.4,395.4l1.4,0.3M518.0,389.0l1.2,0.4M520.0,393.6l3.1,1.2M520.7,395.6l3.2,0.3M534.3,392.0l2.0,0.3M541.3,382.7l1.6,0.4M522.5,388.7l2.0,0.3M507.2,394.5l2.4,0.3M524.9,387.8l2.1,0.8M535.5,380.0l1.7,0.5M516.3,386.2l1.1,0.1M514.3,384.3l1.1,0.1M517.7,378.3l1.1,0.1M535.6,378.5l1.4,0.2M533.3,385.2l1.0,0.2M533.6,392.1l3.0,0.7M520.5,387.6l1.6,0.1M515.8,384.3l1.3,0.1M515.3,381.8l3.1,0.7M528.4,380.5l1.9,0.3M530.0,395.6l2.7,0.4M528.1,377.8l1.0,0.2M531.1,387.9l1.6,0.5M532.7,392.1l2.1,0.7M529.8,390.9l1.2,0.1M523.6,386.8l1.2,0.4M519.1,384.8l2.1,0.7M517.4,387.2l2.3,0.7M517.8,379.2l2.0,0.5M530.4,375.1l2.0,0.5M524.8,379.7l1.1,0.2M519.3,391.0l2.4,0.1M539.9,383.9l1.6,0.3M524.3,375.5l2.5,0.7M524.0,386.6l2.7,1.0M529.2,372.6l2.1,0.6M518.5,390.7l1.8,0.5M529.2,390.3l3.0,0.9M532.9,391.3l1.5,0.4M529.5,373.0l2.7,0.3M524.6,386.2l2.6,0.8M523.7,398.0l2.0,0.5M533.0,398.5l1.2,0.4M530.7,386.6l2.7,1.0M529.3,391.1l3.1,1.0M522.1,397.2l3.1,1.0M518.6,393.2l2.2,0.6M530.1,395.9l2.6,1.0M524.7,385.3l2.4,0.6M518.0,385.5l1.1,0.1M541.2,379.2l1.7,0.6M515.1,390.3l2.3,0.8M524.0,380.6l1.6,0.3M519.4,378.4l1.6,0.4M524.1,374.6l2.2,0.3M511.4,393.6l1.2,0.3M535.0,386.7l2.9,0.5M539.9,383.3l1.0,0.1M533.9,394.3l1.0,0.2M523.6,397.1l3.0,0.3M522.1,386.1l2.0,0.3M517.6,393.4l1.5,0.3M525.8,390.4l2.5,0.6M519.8,375.5l1.1,0.1M521.3,371.6l2.5,0.4M524.6,377.3l2.9,0.6M517.0,391.6l1.1,0.4M537.7,388.2l1.5,0.2M524.6,393.6l1.3,0.5M538.8,385.0l2.9,0.5M543.2,380.5l3.0,1.0M530.8,397.1l2.5,0.2M519.1,381.1l1.4,0.2M525.5,381.9l1.6,0.3M507.1,396.3l1.2,0.1M534.0,392.7l2.4,0.5M533.3,383.5l1.4,0.2M519.1,383.0l1.6,0.5M524.6,376.1l2.9,1.1M514.3,389.5l1.8,0.3" stroke="#48415c" stroke-width="0.85" fill="none"/>
<path d="M517.4,388.5l2.1,0.5M531.8,384.7l3.1,0.6M529.5,388.0l2.7,0.8M532.0,380.6l1.6,0.1M519.5,383.7l2.5,0.9M532.5,377.5l3.2,0.4M528.0,389.6l1.6,0.6M529.1,391.5l1.3,0.4M516.8,388.9l2.6,0.4M516.0,380.7l3.2,0.9M523.8,387.3l2.4,0.3M528.0,388.3l3.2,0.8M524.8,383.3l2.0,0.4M534.8,387.6l1.3,0.5M525.9,392.6l2.2,0.6M527.8,374.6l1.3,0.4M519.2,375.0l2.8,0.9M534.9,382.3l1.3,0.4M514.1,390.3l2.5,0.4M535.9,388.0l3.2,0.4M533.7,383.7l2.3,0.4M514.7,386.9l2.3,0.9M528.9,385.5l2.4,0.7M521.4,378.9l2.5,0.5M519.5,390.8l2.4,0.5M536.9,380.6l1.8,0.6M531.7,383.4l3.0,0.2M526.3,395.7l2.9,0.3M536.6,386.4l3.1,0.5M531.1,389.5l3.2,0.5M520.7,374.8l2.5,0.2M538.2,375.4l1.4,0.5M524.8,392.7l1.8,0.2M513.2,397.0l2.9,0.8M516.0,392.0l3.0,0.8M514.3,388.6l3.1,0.8M529.8,372.7l1.0,0.2M515.7,385.3l1.2,0.3M531.6,380.3l2.3,0.5M535.9,387.7l2.4,0.6M537.2,374.0l1.3,0.4M520.2,374.5l2.7,0.8" stroke="#a09bb0" stroke-width="0.7" fill="none"/>
<path d="M527.9,373.0h1.9M528.6,374.7h2.0M523.9,373.0h1.3M527.8,371.5h1.5M524.1,372.8h1.3M544.3,380.3h1.1M539.5,375.8h2.0M540.3,373.3h1.6M541.5,383.4h1.1M541.1,387.4h1.4M540.8,385.8h0.9M540.3,388.8h1.1M535.6,396.8h1.9M534.4,400.3h1.4M533.5,397.6h1.1M511.3,398.7h1.6M522.3,398.5h1.3M523.1,398.5h1.4M510.2,396.4h1.6M518.4,397.8h1.4M520.8,397.7h1.5M524.4,397.8h1.9M508.1,396.4h0.9M530.5,400.9h1.5M510.3,390.4h1.0M508.0,392.3h1.0M516.2,382.1h1.6M518.7,372.9h1.1M511.5,386.5h1.9M512.7,384.3h0.9M507.6,390.4h1.1M508.9,390.9h1.3M519.0,372.7h1.2" stroke="#736d86" stroke-width="1.3" fill="none"/>
<polygon points="449,388.9 494.5,395.5 497.4,399.7 490.7,408.8 468,405.4 443.3,396.5" fill="#736d86" stroke="#736d86" stroke-width="0.8" stroke-linejoin="round"/>
<path d="M470.8,392.1l1.9,0.1M478.8,406.2l3.0,0.8M464.1,400.0l2.2,0.2M472.5,398.8l1.4,0.3M488.5,401.7l1.7,0.2M477.4,399.9l1.7,0.4M465.3,401.4l2.9,0.5M472.4,400.1l2.5,0.3M457.4,398.7l2.0,0.3M483.3,396.3l1.4,0.5M481.5,396.8l3.2,0.8M491.7,402.1l1.3,0.3M493.3,401.9l1.1,0.3M482.0,397.7l2.4,0.9M451.3,391.0l2.5,0.5M468.3,393.5l2.7,0.9M482.6,397.5l2.1,0.4M468.5,395.4l2.0,0.8M479.6,405.2l1.8,0.6M477.1,396.5l2.0,0.5M489.8,401.5l3.0,0.4M486.4,396.7l1.4,0.5M474.5,393.4l3.0,0.7M461.0,399.7l2.2,0.3M481.0,394.2l2.5,0.7M463.2,402.3l1.8,0.6M459.4,392.3l1.7,0.2M490.6,408.7l1.9,0.3M491.0,405.8l1.5,0.2M454.7,396.8l1.3,0.1M476.0,394.9l3.0,1.2M479.6,394.4l2.7,0.5M490.4,397.3l2.5,0.8M481.3,403.9l1.8,0.2M445.3,394.5l1.7,0.3M448.9,389.3l1.7,0.5M467.8,401.8l2.1,0.4M448.6,392.9l2.7,0.6M483.8,403.9l1.3,0.4M454.2,391.7l2.6,0.9M459.7,396.6l2.6,0.4M456.6,392.8l2.0,0.2M493.3,400.3l2.9,0.6M450.1,393.4l2.9,0.7M485.1,401.0l2.7,0.6M455.1,395.4l3.0,0.7M469.9,398.0l2.4,0.6M491.3,404.5l2.6,0.8M454.0,398.7l1.6,0.2M487.4,405.5l1.9,0.1M481.7,396.0l2.3,0.2M478.9,404.5l2.7,0.7M457.7,397.0l1.2,0.1M495.1,402.5l2.2,0.7M490.3,401.5l1.9,0.4M478.1,395.7l2.5,0.4M483.6,400.0l2.3,0.2M484.5,394.7l2.6,0.2M472.9,395.8l2.0,0.3M447.1,397.6l1.5,0.2M461.2,391.4l1.0,0.4M466.5,399.0l1.1,0.3M481.8,405.7l1.4,0.3M449.7,393.8l2.9,0.5M469.3,395.4l2.1,0.5M470.8,405.0l2.1,0.2M479.6,394.3l1.5,0.3M470.9,396.2l2.0,0.6M470.5,397.0l2.3,0.3M480.2,397.3l2.6,0.4M469.5,398.7l1.0,0.1M468.2,404.1l2.8,1.0M486.9,408.1l1.4,0.1M453.6,395.2l1.3,0.5M454.6,393.6l2.3,0.7M472.0,399.9l2.1,0.7M487.8,406.0l1.7,0.1M477.7,398.5l2.6,0.9M482.9,402.7l1.7,0.5M477.9,393.3l2.9,0.6M472.0,392.8l2.8,0.6M483.5,405.7l2.1,0.5M468.4,393.6l2.8,1.0M467.0,395.7l1.5,0.5M453.8,396.5l2.4,0.8M466.4,392.6l1.8,0.5M495.6,401.9l2.9,1.0M466.5,399.0l2.8,0.9M464.9,392.7l2.6,0.4M457.6,393.9l2.5,0.7M494.0,400.6l2.1,0.7M451.5,391.2l1.1,0.3M459.9,394.2l1.6,0.1M457.1,395.7l2.0,0.5M458.9,399.6l1.7,0.6M493.8,400.2l1.2,0.2M481.4,400.2l1.6,0.3M446.6,396.9l2.8,0.5M468.5,392.2l2.6,0.5M459.4,390.4l2.4,0.7M446.2,395.8l2.9,0.7M465.3,391.5l1.6,0.4M492.8,402.1l3.1,0.6M447.0,395.7l1.8,0.1M452.3,394.9l1.5,0.2" stroke="#48415c" stroke-width="0.85" fill="none"/>
<path d="M485.9,406.9l2.9,0.7M470.1,393.7l2.1,0.4M472.1,402.8l1.7,0.5M454.0,399.3l1.5,0.5M453.6,394.7l1.2,0.2M472.6,393.4l1.3,0.5M460.1,393.2l1.9,0.6M483.7,406.9l2.2,0.4M480.2,405.6l3.0,1.0M478.3,404.9l1.6,0.4M471.0,392.4l3.2,0.8M477.2,401.3l2.9,0.5M458.3,400.2l1.4,0.4M469.1,392.9l1.3,0.1M486.4,405.8l2.2,0.7M461.2,396.2l3.0,0.4M477.0,400.2l1.1,0.3M486.4,406.6l1.9,0.7M480.1,405.0l2.0,0.5M472.9,399.0l1.7,0.6M465.6,391.8l3.1,0.3M448.8,389.5l1.8,0.1M494.9,398.0l1.5,0.1M478.0,395.2l1.4,0.3M481.8,395.7l2.2,0.3M474.5,398.3l1.9,0.6M474.6,403.0l2.0,0.4M461.8,393.7l1.5,0.5M468.7,403.7l1.2,0.3M487.2,394.7l1.2,0.2M484.9,404.1l1.1,0.2M487.7,397.8l2.5,0.8M482.8,407.3l2.7,0.6M490.6,398.9l1.3,0.3M450.6,395.6l2.3,0.5M478.1,405.2l3.1,0.5M496.1,399.0l2.8,0.9M460.3,401.2l3.1,0.2M473.9,397.3l2.7,0.6M450.8,395.9l2.7,0.7M494.0,402.6l1.8,0.6M479.4,400.4l2.7,0.7" stroke="#a09bb0" stroke-width="0.7" fill="none"/>
<path d="M473.4,394.0h0.9M453.1,389.3h1.8M457.1,390.3h1.4M477.4,394.0h2.0M455.9,390.5h0.9M451.8,388.4h0.8M486.4,394.1h1.9M453.4,388.6h1.6M460.5,391.5h1.2M476.5,392.7h1.7M492.6,396.0h1.2M489.1,395.1h1.4M468.7,391.6h1.9M472.2,393.4h0.8M491.3,394.4h1.3M495.3,393.3h1.5M489.1,408.9h1.8M490.2,408.4h0.8M492.0,409.0h1.5M486.3,408.8h0.8M480.6,408.4h1.6M469.7,405.1h1.5M475.1,406.0h1.2M476.0,408.5h1.3M476.4,407.2h2.0M467.9,407.0h2.0M466.5,405.0h2.0M467.9,404.0h1.4M463.4,404.1h1.0M445.7,396.8h1.5M455.6,399.1h1.9M466.2,405.2h1.7M466.6,403.6h1.6M445.7,395.9h1.6M446.2,392.3h1.0M446.4,391.8h1.8M445.3,392.0h1.8" stroke="#736d86" stroke-width="1.3" fill="none"/>
<polygon points="496.4,403.1 505,402.2 506.9,408.8 498.3,412.6" fill="#736d86" stroke="#736d86" stroke-width="0.8" stroke-linejoin="round"/>
<path d="M498.9,408.5l2.0,0.5M497.3,404.2l1.5,0.5M504.6,406.2l2.3,0.5M502.0,405.0l1.8,0.7M501.1,408.9l2.3,0.6M505.4,404.9l1.2,0.2M501.8,410.5l2.3,0.9M498.4,406.1l2.3,0.6M503.7,407.5l1.2,0.4M504.7,402.9l2.8,0.1M503.6,408.7l1.7,0.1M499.1,408.7l2.2,0.7" stroke="#48415c" stroke-width="0.85" fill="none"/>
<path d="M498.2,408.7l1.7,0.1M498.4,403.4l1.4,0.1M504.4,406.6l2.1,0.3M502.5,408.1l2.0,0.8" stroke="#a09bb0" stroke-width="0.7" fill="none"/>
<path d="M505.3,402.1h1.4M503.2,404.2h1.7M504.8,404.3h1.9M506.6,410.5h1.5M503.8,410.6h0.8M503.6,410.9h1.2M505.9,410.0h2.0M496.7,407.8h2.0M498.4,403.9h1.7M496.0,405.3h1.2" stroke="#736d86" stroke-width="1.3" fill="none"/>
<polygon points="507.8,400.3 517.3,400.3 525.8,405 523,407.9 509.7,404.1" fill="#736d86" stroke="#736d86" stroke-width="0.8" stroke-linejoin="round"/>
<path d="M518.1,401.9l1.3,0.5M511.5,404.2l2.8,0.6M516.4,401.5l3.1,0.8M519.8,403.3l2.6,0.5M511.0,403.0l2.7,0.9M517.1,405.3l3.1,0.8M523.5,406.0l2.3,0.6M510.8,400.4l1.1,0.4M515.0,404.9l2.0,0.7M521.1,403.1l2.4,0.3M524.2,404.4l1.3,0.5M512.5,401.3l2.7,1.0" stroke="#48415c" stroke-width="0.85" fill="none"/>
<path d="M523.9,405.4l2.4,0.3M513.5,404.3l2.0,0.4M514.7,400.4l2.4,0.4M509.8,403.1l2.5,0.8" stroke="#a09bb0" stroke-width="0.7" fill="none"/>
<path d="M512.7,401.1h1.5M513.2,400.1h1.4M508.5,400.7h1.0M520.4,402.4h1.5M520.8,402.3h1.8M523.4,403.8h0.8M525.7,404.9h1.3M515.6,406.5h1.9M510.3,403.2h1.9M513.7,405.7h1.0M520.7,408.3h1.1M509.0,404.6h1.9" stroke="#736d86" stroke-width="1.3" fill="none"/>
<polygon points="415.2,430.3 424,426.7 441.5,429.6 453.2,432.5 469.2,435.4 466.3,445.7 448.8,442 431.3,438.4 415.2,434.7" fill="#736d86" stroke="#736d86" stroke-width="0.8" stroke-linejoin="round"/>
<path d="M463.3,442.3l1.6,0.5M430.4,437.8l2.2,0.3M444.4,431.7l2.8,0.4M462.8,438.8l1.6,0.4M430.8,429.9l3.2,0.2M422.5,432.8l1.7,0.4M460.0,440.2l1.4,0.2M449.6,440.4l1.5,0.5M463.9,435.7l1.3,0.1M448.9,440.3l1.0,0.1M428.2,435.0l2.9,0.9M444.4,430.4l1.6,0.6M430.7,434.2l2.5,0.9M420.7,433.0l1.7,0.5M467.5,439.3l1.9,0.8M465.6,435.1l2.0,0.5M453.7,435.7l2.3,0.8M448.8,439.8l2.9,0.9M462.7,438.9l2.7,0.5M430.7,430.0l1.3,0.1M455.6,437.2l2.7,0.3M460.9,436.9l1.8,0.6M445.6,430.8l1.9,0.4M452.9,438.8l1.8,0.2M446.7,440.5l2.4,0.1M457.7,438.7l3.2,0.9M428.0,428.8l1.9,0.1M445.9,436.8l1.4,0.4M440.5,440.0l2.7,0.9M446.2,439.4l1.4,0.3M443.3,431.9l1.2,0.2M442.8,438.5l1.1,0.3M465.8,434.8l2.0,0.3M462.2,444.8l1.9,0.4M449.0,433.8l1.3,0.2M447.8,438.5l1.1,0.4M456.6,438.0l1.5,0.6M444.6,438.2l3.1,0.6M461.6,441.2l1.5,0.2M419.7,428.8l2.9,0.3M441.3,434.7l3.0,0.8M463.4,441.0l1.3,0.4M429.8,435.1l1.3,0.1M440.4,440.3l2.6,0.9M464.5,440.9l1.5,0.5M448.9,431.6l1.4,0.1M432.2,429.9l2.2,0.4M443.6,435.4l2.2,0.3M426.6,434.7l2.0,0.4M433.7,438.6l3.1,0.3M435.1,436.3l2.6,0.4M468.5,435.3l3.1,0.7M451.9,439.3l2.7,0.7M452.2,440.2l1.6,0.6M448.1,436.2l2.4,0.4M426.6,433.5l2.3,0.5M420.2,431.9l2.7,0.3M438.9,435.6l1.2,0.1M442.8,430.9l2.8,0.3M431.7,430.3l2.6,0.9M439.0,433.0l3.0,0.3M462.3,442.9l1.7,0.2M446.3,432.6l2.5,0.2M446.3,440.4l1.4,0.2M453.8,439.8l3.0,0.2M436.2,433.3l2.9,0.7M432.9,429.7l2.0,0.3" stroke="#48415c" stroke-width="0.85" fill="none"/>
<path d="M463.2,434.4l2.0,0.7M434.8,433.2l2.8,0.9M433.6,438.0l1.9,0.6M464.3,439.9l1.8,0.5M458.3,438.0l2.7,0.8M463.1,440.3l1.5,0.3M451.9,438.6l2.3,0.8M438.8,431.4l2.1,0.4M431.0,428.4l1.3,0.2M433.3,432.9l1.4,0.4M419.2,430.3l3.2,0.2M418.7,434.7l2.7,1.1M439.5,431.1l2.1,0.1M438.6,430.9l1.8,0.5M455.1,435.9l1.9,0.3M448.1,440.8l1.5,0.1M456.1,437.2l1.2,0.2M465.5,442.5l2.4,1.0M462.3,436.2l3.0,0.4M466.1,445.3l2.8,1.1M452.0,439.6l1.2,0.4M458.7,443.3l2.6,0.4M447.7,436.0l2.9,0.8M457.3,438.8l1.8,0.5M429.8,429.5l2.1,0.2M456.5,437.9l1.3,0.4M454.8,435.7l3.0,1.1" stroke="#a09bb0" stroke-width="0.7" fill="none"/>
<path d="M420.8,427.5h1.7M421.3,426.8h1.1M419.2,430.1h1.6M435.0,427.8h1.5M437.6,428.6h1.1M428.9,428.9h1.3M428.8,426.9h1.9M431.8,428.2h1.9M442.9,430.2h1.3M441.3,430.7h1.0M445.9,431.8h1.9M448.4,429.7h0.8M455.2,431.8h1.3M467.0,436.0h1.8M465.2,434.8h1.8M461.5,435.4h1.4M467.1,436.3h1.3M468.6,434.5h1.2M467.2,439.3h2.0M467.8,442.6h0.8M463.8,444.8h1.7M449.2,441.0h1.0M451.6,442.7h1.4M451.2,442.3h0.8M456.9,444.5h1.3M442.7,439.3h1.1M440.3,440.3h0.8M436.2,441.1h1.4M445.9,440.5h1.5M435.2,440.0h0.9M427.3,437.7h1.4M427.8,437.7h1.9M416.3,437.7h1.7M422.6,437.8h1.8M416.9,436.0h1.1M415.5,431.2h1.0" stroke="#736d86" stroke-width="1.3" fill="none"/>
<polygon points="470.7,442 474.3,437.6 479.5,440.5 484.6,438.4 494.1,444.2 496.2,449.3 486.8,449.3 469.2,445.7" fill="#736d86" stroke="#736d86" stroke-width="0.8" stroke-linejoin="round"/>
<path d="M487.5,445.5l1.3,0.1M494.3,449.2l3.0,0.2M489.3,442.8l1.8,0.3M488.4,442.3l1.4,0.1M470.5,442.5l2.6,0.7M495.2,448.0l3.0,0.7M483.1,445.7l2.4,0.3M484.0,442.9l2.1,0.5M482.9,444.7l1.7,0.2M476.9,439.9l1.0,0.1M493.8,449.0l2.4,0.9M470.6,444.0l3.1,0.4M485.6,448.5l1.2,0.4M485.0,447.7l1.7,0.1M486.3,441.6l1.3,0.1M471.7,444.7l2.7,0.2M475.8,444.5l1.4,0.5M484.9,438.6l1.7,0.5M475.6,439.1l1.9,0.1M477.3,447.1l3.0,0.6M489.2,447.2l3.1,0.4M488.1,448.1l2.6,0.2M491.7,446.6l2.3,0.1M484.1,444.6l1.2,0.4M485.0,440.7l1.5,0.2M475.6,439.2l2.5,0.7M486.4,447.4l1.4,0.6M473.7,442.7l2.0,0.8M482.2,446.2l2.6,0.4M481.6,443.0l1.7,0.2" stroke="#48415c" stroke-width="0.85" fill="none"/>
<path d="M489.7,443.1l2.0,0.4M470.1,443.7l1.6,0.6M486.3,440.9l2.8,0.7M486.4,446.2l2.6,0.3M492.6,446.3l2.7,0.8M488.8,448.3l1.6,0.3M493.0,449.3l2.5,0.3M477.0,444.0l1.0,0.2M484.5,448.4l2.5,0.9M475.1,440.5l2.4,0.3M470.9,445.1l1.2,0.3M485.3,446.8l1.3,0.1" stroke="#a09bb0" stroke-width="0.7" fill="none"/>
<path d="M471.7,441.5h1.7M476.1,437.3h1.9M483.4,439.1h1.5M486.7,440.4h1.8M492.4,443.9h1.2M487.2,442.4h1.6M493.9,445.6h2.0M494.7,448.6h1.3M495.8,450.1h1.1M490.8,449.8h1.5M476.9,447.1h1.1M473.8,446.5h0.9M472.2,446.1h2.0M476.6,447.0h0.8M471.6,446.4h1.7M469.7,447.1h1.7" stroke="#736d86" stroke-width="1.3" fill="none"/>
<polygon points="587.5,386.8 605.9,385.5 600.6,397.3 590.2,411.8 575.7,413.1 581,402.5 585,393.4" fill="#736d86" stroke="#736d86" stroke-width="0.8" stroke-linejoin="round"/>
<path d="M591.2,402.3l2.3,0.3M586.3,402.7l1.5,0.5M593.5,397.8l1.9,0.1M587.5,395.8l1.3,0.5M583.2,404.3l2.6,0.4M593.7,405.4l2.3,0.6M585.4,399.3l1.9,0.2M577.4,412.9l1.8,0.6M602.7,390.0l1.4,0.2M594.3,404.8l1.4,0.3M597.6,397.8l2.6,0.8M588.5,410.4l2.5,0.5M600.6,395.0l1.8,0.5M595.3,398.7l2.1,0.4M586.8,401.5l1.3,0.3M590.7,396.8l1.7,0.6M582.8,400.1l3.1,0.6M588.4,404.3l2.1,0.7M602.5,392.0l2.1,0.5M589.5,403.1l1.4,0.2M585.2,393.8l3.1,0.8M594.8,402.1l2.3,0.1M592.8,404.0l1.8,0.3M583.6,406.6l2.6,0.6M591.1,393.6l3.1,0.2M592.8,394.0l2.8,1.1M593.4,405.4l1.5,0.6M589.3,409.6l1.1,0.2M596.8,390.2l1.0,0.2M581.4,401.9l2.9,0.9M594.9,399.0l1.5,0.2M592.7,393.9l2.5,0.3M594.5,391.3l2.5,0.9M603.7,389.4l1.9,0.3M587.5,387.0l1.8,0.5M598.4,397.8l3.0,0.9M586.4,406.6l2.1,0.3M604.5,386.4l3.1,0.6M589.4,403.6l1.7,0.2M595.5,394.8l1.1,0.2M593.8,390.3l2.8,1.1M587.9,392.4l2.5,0.9M597.9,389.7l3.2,1.2M596.5,391.4l1.4,0.1M586.6,393.2l2.9,0.9M597.7,399.2l1.6,0.3M594.0,400.4l2.9,0.3M594.7,388.5l1.6,0.4M591.2,409.6l1.5,0.3M587.1,393.7l2.5,0.4M587.8,407.2l1.2,0.3M590.7,396.8l2.0,0.2" stroke="#48415c" stroke-width="0.85" fill="none"/>
<path d="M579.6,405.3l1.7,0.2M581.8,402.9l2.5,0.7M588.2,390.4l2.6,0.5M583.0,409.4l1.1,0.2M595.0,393.8l3.1,1.1M586.7,404.9l3.1,0.9M588.4,411.3l2.3,0.7M603.0,387.0l1.2,0.1M584.1,412.3l2.6,0.5M593.8,397.6l2.1,0.4M592.0,395.8l2.2,0.6M588.8,402.3l2.3,0.6M591.3,391.3l1.6,0.5M604.0,388.4l1.1,0.2M582.4,402.4l1.2,0.4M577.8,411.5l1.8,0.3M586.5,391.3l1.1,0.2M592.1,388.9l2.0,0.3M589.6,409.8l1.4,0.3M589.9,397.7l1.2,0.4M602.7,391.5l2.9,0.6" stroke="#a09bb0" stroke-width="0.7" fill="none"/>
<path d="M603.2,386.0h2.0M594.8,386.5h1.2M603.5,385.6h0.9M590.7,386.6h1.0M591.9,386.3h1.4M600.1,386.4h1.6M603.3,393.1h1.1M602.2,394.8h1.6M605.5,387.2h1.3M604.8,388.9h1.5M598.1,403.3h1.8M595.2,404.3h1.5M594.1,407.0h1.8M598.9,399.9h1.1M594.6,404.0h1.5M579.6,412.9h1.1M581.6,411.7h1.5M577.1,412.2h1.3M587.0,413.7h1.4M577.8,407.7h1.3M575.9,410.3h1.8M577.9,407.1h1.5M582.6,399.1h1.2M583.4,397.4h1.4M581.7,402.4h1.7M585.5,390.4h1.0M586.2,387.1h1.7" stroke="#736d86" stroke-width="1.3" fill="none"/>
<polygon points="573.2,414.6 588.9,414 585,422.3 579.8,427.5 571.9,424.9 569.2,418.3" fill="#736d86" stroke="#736d86" stroke-width="0.8" stroke-linejoin="round"/>
<path d="M579.3,414.9l1.3,0.3M582.1,414.5l2.6,1.0M581.1,425.9l2.1,0.7M586.2,414.3l2.5,0.9M575.1,422.3l2.3,0.4M587.3,415.3l1.4,0.4M584.3,420.5l2.9,0.3M585.7,418.1l2.3,0.5M579.9,417.7l1.3,0.4M578.0,418.7l2.2,0.1M583.9,418.6l1.7,0.2M582.3,424.9l2.0,0.7M577.2,421.2l2.8,0.4M578.5,418.8l1.1,0.4M584.1,414.3l2.8,0.3M585.5,414.6l1.3,0.4M581.2,423.7l1.3,0.3M585.3,420.9l2.0,0.5M585.3,416.5l1.6,0.5M573.9,415.6l2.8,1.1M579.2,421.7l2.4,0.6" stroke="#48415c" stroke-width="0.85" fill="none"/>
<path d="M578.8,415.4l1.8,0.4M582.0,422.9l2.4,0.7M571.4,417.0l1.4,0.3M583.8,414.8l1.1,0.2M576.9,420.8l2.3,0.7M578.1,419.2l1.4,0.3M586.0,417.0l1.4,0.1M581.8,415.6l3.1,0.4" stroke="#a09bb0" stroke-width="0.7" fill="none"/>
<path d="M578.3,413.0h1.8M579.8,414.1h1.8M577.1,413.4h2.0M586.2,413.9h1.7M577.2,413.6h1.8M587.5,414.1h1.7M586.0,421.6h0.8M583.9,422.3h1.8M583.4,424.4h1.2M580.2,426.8h1.5M578.5,426.2h1.1M574.9,425.7h1.0M569.3,421.2h1.5M570.3,421.7h1.2M572.0,415.2h1.9" stroke="#736d86" stroke-width="1.3" fill="none"/>
<path d="M581,396.5L589,395.2M578.5,404.5L585.5,403.3M583,390L588,389.3M456,381.5L448,383M503,391L520,371" stroke="#f8f8f8" stroke-width="1.1" fill="none"/>
<polygon points="466,376 472,368 490,367 501,372 500,386 491,392 478,390 469,385" fill="#3f4598" fill-opacity="0.6"/>
<rect x="497.1" y="387.9" width="1.6" height="1.3" fill="#3a3a80"/><rect x="494.6" y="377.4" width="1.6" height="2.9" fill="#5a70c0"/><rect x="486.6" y="383.3" width="1.6" height="2.7" fill="#5a78d8"/><rect x="481.0" y="372.2" width="1.6" height="2.9" fill="#30306a"/><rect x="479.6" y="370.0" width="1.6" height="2.6" fill="#5a78d8"/><rect x="484.0" y="381.9" width="1.6" height="2.2" fill="#5a70c0"/><rect x="496.6" y="380.0" width="1.6" height="2.3" fill="#5a78d8"/><rect x="475.9" y="373.4" width="1.6" height="1.8" fill="#30306a"/><rect x="474.1" y="375.5" width="1.6" height="2.6" fill="#4a60c8"/><rect x="476.4" y="382.7" width="1.6" height="2.6" fill="#3a3a80"/><rect x="478.4" y="369.3" width="1.6" height="2.5" fill="#7a7ab0"/><rect x="487.4" y="383.9" width="1.6" height="1.4" fill="#2a2a70"/><rect x="470.6" y="382.7" width="1.6" height="2.4" fill="#5a78d8"/><rect x="480.9" y="375.6" width="1.6" height="1.5" fill="#7a7ab0"/><rect x="475.6" y="372.7" width="1.6" height="2.6" fill="#5a70c0"/><rect x="497.7" y="374.3" width="1.6" height="1.3" fill="#30306a"/><rect x="499.7" y="375.9" width="1.6" height="2.4" fill="#4a60c8"/><rect x="493.1" y="383.8" width="1.6" height="1.7" fill="#4a60c8"/><rect x="494.2" y="388.5" width="1.6" height="2.5" fill="#3a3a80"/><rect x="491.3" y="369.6" width="1.6" height="2.1" fill="#5a78d8"/><rect x="499.3" y="385.7" width="1.6" height="2.8" fill="#30306a"/><rect x="486.4" y="375.7" width="1.6" height="2.6" fill="#5a78d8"/><rect x="485.2" y="379.2" width="1.6" height="1.7" fill="#30306a"/><rect x="479.9" y="388.0" width="1.6" height="3.0" fill="#2a2a70"/><rect x="487.9" y="387.5" width="1.6" height="2.8" fill="#30306a"/><rect x="472.8" y="386.3" width="1.6" height="2.1" fill="#30306a"/><rect x="491.9" y="372.8" width="1.6" height="1.7" fill="#7a7ab0"/><rect x="491.1" y="385.1" width="1.6" height="2.3" fill="#3a3a80"/><rect x="488.9" y="379.6" width="1.6" height="1.7" fill="#2a2a70"/><rect x="475.1" y="373.1" width="1.6" height="1.5" fill="#2a2a70"/><rect x="478.4" y="381.1" width="1.6" height="2.3" fill="#2a2a70"/><rect x="484.6" y="368.9" width="1.6" height="2.5" fill="#4a60c8"/><rect x="492.8" y="386.0" width="1.6" height="2.6" fill="#30306a"/><rect x="475.3" y="378.2" width="1.6" height="1.6" fill="#4a60c8"/><rect x="467.8" y="376.3" width="1.6" height="2.0" fill="#2a2a70"/><rect x="487.3" y="370.1" width="1.6" height="1.9" fill="#7a7ab0"/><rect x="487.5" y="390.0" width="1.6" height="1.9" fill="#2a2a70"/><rect x="468.5" y="376.2" width="1.6" height="3.0" fill="#30306a"/><rect x="476.2" y="371.2" width="1.6" height="2.7" fill="#4a60c8"/><rect x="486.3" y="373.3" width="1.6" height="1.8" fill="#4a60c8"/><rect x="494.3" y="383.4" width="1.6" height="1.8" fill="#2a2a70"/><rect x="496.3" y="380.9" width="1.6" height="1.4" fill="#3a3a80"/><rect x="482.3" y="370.8" width="1.6" height="2.2" fill="#7a7ab0"/><rect x="486.9" y="388.9" width="1.6" height="2.5" fill="#3a3a80"/><rect x="487.0" y="378.3" width="1.6" height="2.4" fill="#3a3a80"/><rect x="492.7" y="387.9" width="1.6" height="1.9" fill="#5a78d8"/><rect x="484.4" y="373.1" width="1.6" height="2.6" fill="#5a70c0"/><rect x="494.4" y="374.9" width="1.6" height="1.4" fill="#2a2a70"/><rect x="480.8" y="378.8" width="1.6" height="2.1" fill="#5a78d8"/><rect x="483.8" y="378.3" width="1.6" height="1.8" fill="#5a70c0"/><rect x="477.7" y="382.7" width="1.6" height="2.4" fill="#7a7ab0"/><rect x="500.7" y="372.9" width="1.6" height="2.1" fill="#2a2a70"/><rect x="492.2" y="379.6" width="1.6" height="2.1" fill="#30306a"/><rect x="495.8" y="381.8" width="1.6" height="2.9" fill="#5a70c0"/><rect x="476.1" y="383.4" width="1.6" height="1.2" fill="#7a7ab0"/><rect x="469.4" y="374.4" width="1.6" height="1.4" fill="#4a60c8"/><rect x="495.4" y="374.2" width="1.6" height="2.9" fill="#5a70c0"/><rect x="494.2" y="382.8" width="1.6" height="1.2" fill="#5a70c0"/><rect x="479.3" y="378.4" width="1.6" height="2.4" fill="#7a7ab0"/><rect x="482.6" y="388.6" width="1.6" height="2.3" fill="#4a60c8"/><rect x="493.4" y="377.1" width="1.6" height="1.5" fill="#5a78d8"/><rect x="496.5" y="380.3" width="1.6" height="2.5" fill="#3a3a80"/><rect x="478.6" y="387.2" width="1.6" height="1.9" fill="#2a2a70"/><rect x="470.0" y="376.1" width="1.6" height="2.5" fill="#5a70c0"/><rect x="482.4" y="382.4" width="1.6" height="1.3" fill="#5a78d8"/><rect x="476.7" y="373.9" width="1.6" height="2.9" fill="#5a78d8"/>
<rect x="469.4" y="351.9" width="0.9" height="22.1" fill="#4a6ad0"/>
<rect x="470.3" y="351.9" width="0.9" height="22.1" fill="#3a58b8"/>
<ellipse cx="470.3" cy="351.9" rx="0.9" ry="0.9" fill="#4a6ad0"/>
<ellipse cx="470.3" cy="374" rx="0.9" ry="0.9" fill="#3a58b8"/>
<rect x="470.4" y="318.5" width="1.8" height="56.5" fill="#8aa83c"/>
<rect x="472.2" y="318.5" width="1.8" height="56.5" fill="#6e9034"/>
<ellipse cx="472.2" cy="318.5" rx="1.8" ry="0.9" fill="#8aa83c"/>
<ellipse cx="472.2" cy="375" rx="1.8" ry="0.9" fill="#6e9034"/>
<rect x="474.6" y="322" width="2.2" height="53" fill="#90ae40"/>
<rect x="476.8" y="322" width="2.2" height="53" fill="#789638"/>
<ellipse cx="476.8" cy="322" rx="2.2" ry="0.9" fill="#90ae40"/>
<ellipse cx="476.8" cy="375" rx="2.2" ry="0.9" fill="#789638"/>
<rect x="476" y="330" width="1.6" height="47" fill="#5aa890"/>
<rect x="477.6" y="330" width="1.6" height="47" fill="#4a9078"/>
<ellipse cx="477.6" cy="330" rx="1.6" ry="0.9" fill="#5aa890"/>
<ellipse cx="477.6" cy="377" rx="1.6" ry="0.9" fill="#4a9078"/>
<rect x="471.9" y="285.3" width="1.95" height="81.1" fill="#94281c"/>
<rect x="473.85" y="285.3" width="1.95" height="81.1" fill="#701810"/>
<ellipse cx="473.85" cy="285.3" rx="1.95" ry="0.9" fill="#94281c"/>
<ellipse cx="473.85" cy="366.4" rx="1.95" ry="0.9" fill="#701810"/>
<rect x="478.9" y="285.3" width="1.95" height="89.4" fill="#6a1014"/>
<rect x="480.85" y="285.3" width="1.95" height="89.4" fill="#520a0e"/>
<ellipse cx="480.85" cy="285.3" rx="1.95" ry="0.9" fill="#6a1014"/>
<ellipse cx="480.85" cy="374.7" rx="1.95" ry="0.9" fill="#520a0e"/>
<rect x="482.4" y="320" width="0.8" height="58" fill="#90ae44"/>
<rect x="483.2" y="320" width="0.8" height="58" fill="#7a9a3a"/>
<ellipse cx="483.2" cy="320" rx="0.8" ry="0.9" fill="#90ae44"/>
<ellipse cx="483.2" cy="378" rx="0.8" ry="0.9" fill="#7a9a3a"/>
<rect x="483.7" y="314.5" width="2.4" height="65.9" fill="#c0702c"/>
<rect x="486.1" y="314.5" width="2.4" height="65.9" fill="#9c5822"/>
<ellipse cx="486.1" cy="314.5" rx="2.4" ry="0.9" fill="#c0702c"/>
<ellipse cx="486.1" cy="380.4" rx="2.4" ry="0.9" fill="#9c5822"/>
<rect x="488.5" y="360.3" width="1.75" height="15.7" fill="#3ca890"/>
<rect x="490.25" y="360.3" width="1.75" height="15.7" fill="#2e8c78"/>
<ellipse cx="490.25" cy="360.3" rx="1.75" ry="0.9" fill="#3ca890"/>
<ellipse cx="490.25" cy="376" rx="1.75" ry="0.9" fill="#2e8c78"/>
<path d="M472,321.5h3M473,325h3.5M471.5,328h2.5M476,324h2M481.8,333.5h6M474,345h1.5M476.5,340h1.5" stroke="#a8e84a" stroke-width="1.4"/>
<text x="390.4" y="342.2" font-size="14.4" text-anchor="end" font-weight="normal" font-style="normal" fill="#000" >2.0</text>
<text x="391.2" y="370.4" font-size="14.4" text-anchor="end" font-weight="normal" font-style="normal" fill="#000" >1.5</text>
<text x="391.9" y="399.4" font-size="14.4" text-anchor="end" font-weight="normal" font-style="normal" fill="#000" >1.0</text>
<text x="393.1" y="426.2" font-size="14.4" text-anchor="end" font-weight="normal" font-style="normal" fill="#000" >0.5</text>
<text x="394" y="454.9" font-size="14.4" text-anchor="end" font-weight="normal" font-style="normal" fill="#000" >0.0</text>
<text x="400.5" y="465.7" font-size="14.2" text-anchor="middle" font-weight="normal" font-style="normal" fill="#000" >0</text>
<text x="431.6" y="472.6" font-size="14.2" text-anchor="middle" font-weight="normal" font-style="normal" fill="#000" >2</text>
<text x="463.5" y="479.6" font-size="14.2" text-anchor="middle" font-weight="normal" font-style="normal" fill="#000" >4</text>
<text x="496.8" y="486.5" font-size="14.2" text-anchor="middle" font-weight="normal" font-style="normal" fill="#000" >6</text>
<text x="530.1" y="493.4" font-size="14.2" text-anchor="middle" font-weight="normal" font-style="normal" fill="#000" >8</text>
<text x="563.4" y="499.8" font-size="14.2" text-anchor="middle" font-weight="normal" font-style="normal" fill="#000" >10</text>
<text x="629.8" y="408.1" font-size="14.2" text-anchor="middle" font-weight="normal" font-style="normal" fill="#000" >0</text>
<text x="621.8" y="424" font-size="14.2" text-anchor="middle" font-weight="normal" font-style="normal" fill="#000" >2</text>
<text x="612.7" y="441.2" font-size="14.2" text-anchor="middle" font-weight="normal" font-style="normal" fill="#000" >4</text>
<text x="601.7" y="458.3" font-size="14.2" text-anchor="middle" font-weight="normal" font-style="normal" fill="#000" >6</text>
<text x="591.9" y="476.6" font-size="14.2" text-anchor="middle" font-weight="normal" font-style="normal" fill="#000" >8</text>
<text x="582.1" y="494.5" font-size="14.2" text-anchor="middle" font-weight="normal" font-style="normal" fill="#000" >10</text>
<text transform="translate(473.5,495.5) rotate(11)" font-size="14.2" text-anchor="middle"><tspan font-style="italic">ω</tspan><tspan font-size="9.5" font-style="italic" dy="3">j</tspan><tspan dy="-3"> (THz)</tspan></text>
<text transform="translate(627.5,452.5) rotate(-58)" font-size="14.2" text-anchor="middle"><tspan font-style="italic">ω</tspan><tspan font-size="9.5" font-style="italic" dy="3">i</tspan><tspan dy="-3"> (THz)</tspan></text>
<text transform="translate(354.8,305.8) rotate(87.6)" font-size="14.6" text-anchor="start"><tspan font-style="italic">κ</tspan><tspan font-size="9.8" font-style="italic" dy="-6.2">C</tspan><tspan font-size="9.8" font-style="italic" dx="-6.8" dy="9.2">L,ave.</tspan><tspan dy="-3"> (</tspan><tspan font-style="italic">ω</tspan><tspan font-size="9.8" font-style="italic" dy="3">i</tspan><tspan dy="-3">, </tspan><tspan font-style="italic">ω</tspan><tspan font-size="9.8" font-style="italic" dy="3">j</tspan><tspan dy="-3">) [10</tspan><tspan font-size="9.8" dy="-5.8">−4</tspan><tspan dy="5.8"> Wm</tspan><tspan font-size="9.8" dy="-5.8">−1</tspan><tspan dy="5.8">K</tspan><tspan font-size="9.8" dy="-5.8">−1</tspan><tspan dy="5.8">]</tspan></text>
<g transform="translate(427.6,286.0) rotate(-44.8)"><rect x="-50.5" y="-6.8" width="101" height="13.6" rx="2.5" fill="#fff" stroke="#222" stroke-width="0.9"/><text x="0.3" y="3.6" font-size="10.0" font-weight="bold" fill="#ff1e1e" text-anchor="middle"><tspan font-style="italic">T</tspan> = 300 K, IFC<tspan font-size="6.5" font-style="italic" dy="-3.8">T</tspan><tspan font-size="6.5" dx="-3.7" dy="6.5">2</tspan><tspan dy="-2.7">+3,4ph</tspan></text></g>
<defs><linearGradient id="cbg" x1="0" y1="0" x2="0" y2="1"><stop offset="0" stop-color="#7a1514"/><stop offset="0.05" stop-color="#971e12"/><stop offset="0.1" stop-color="#b02d18"/><stop offset="0.15" stop-color="#cc441f"/><stop offset="0.2" stop-color="#e36125"/><stop offset="0.25" stop-color="#ed802a"/><stop offset="0.3" stop-color="#ed9e30"/><stop offset="0.35" stop-color="#e8b835"/><stop offset="0.4" stop-color="#d1cf3c"/><stop offset="0.45" stop-color="#b4df47"/><stop offset="0.5" stop-color="#92e856"/><stop offset="0.55" stop-color="#71ec6a"/><stop offset="0.6" stop-color="#55e882"/><stop offset="0.65" stop-color="#3fdc9d"/><stop offset="0.7" stop-color="#33cab9"/><stop offset="0.75" stop-color="#32b4d3"/><stop offset="0.8" stop-color="#3a99e4"/><stop offset="0.85" stop-color="#477be6"/><stop offset="0.9" stop-color="#505dd0"/><stop offset="0.95" stop-color="#4e4095"/><stop offset="1" stop-color="#3b2144"/></linearGradient></defs>
<rect x="649.4" y="300.9" width="13.4" height="123.2" fill="url(#cbg)"/>
<path d="M662.8,424.1h-2.5M662.8,386.93h-2.5M662.8,349.75h-2.5M662.8,312.58h-2.5" stroke="#222" stroke-width="0.8"/>
<text x="664.6" y="428.4" font-size="12.3" text-anchor="start" font-weight="normal" font-style="normal" fill="#000" >0.0</text>
<text x="664.6" y="391.23" font-size="12.3" text-anchor="start" font-weight="normal" font-style="normal" fill="#000" >0.5</text>
<text x="664.6" y="354.05" font-size="12.3" text-anchor="start" font-weight="normal" font-style="normal" fill="#000" >1.0</text>
<text x="664.6" y="316.88" font-size="12.3" text-anchor="start" font-weight="normal" font-style="normal" fill="#000" >1.5</text>
<text x="336.1" y="256.3" font-size="27" text-anchor="start" font-weight="normal" font-style="normal" fill="#000" >d</text>
</svg></body></html>
